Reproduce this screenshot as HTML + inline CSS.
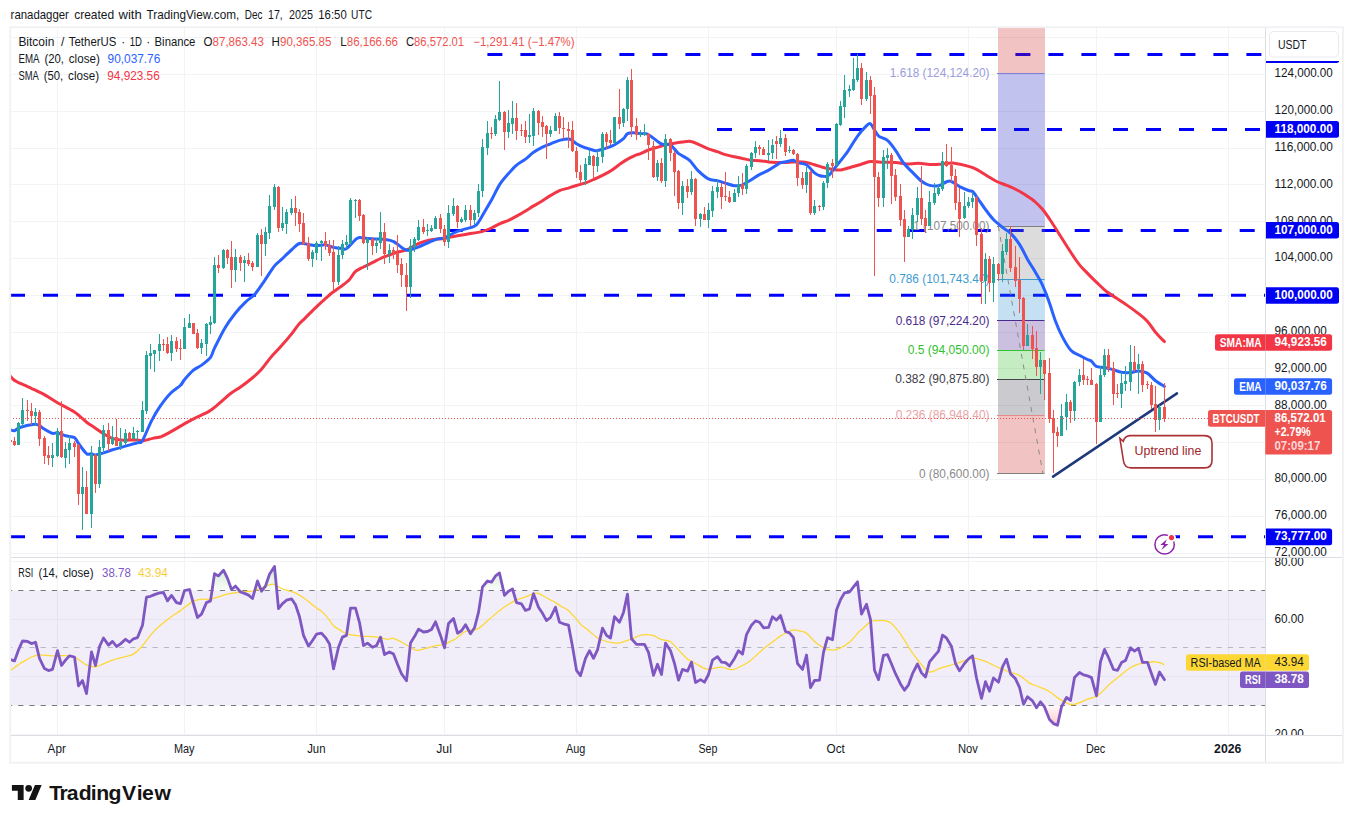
<!DOCTYPE html>
<html><head><meta charset="utf-8"><title>BTCUSDT chart</title>
<style>html,body{margin:0;padding:0;background:#fff;width:1353px;height:823px;overflow:hidden;font-family:"Liberation Sans",sans-serif}</style></head>
<body>
<svg width="1353" height="823" viewBox="0 0 1353 823" style="position:absolute;left:0;top:0" font-family="Liberation Sans, sans-serif">
<defs>
<clipPath id="cm"><rect x="10" y="27" width="1255" height="530"/></clipPath>
<clipPath id="cr"><rect x="10" y="558" width="1255" height="177"/></clipPath>
<clipPath id="cpa"><rect x="1266" y="27" width="77" height="530"/></clipPath>
<clipPath id="cra"><rect x="1266" y="558" width="77" height="177"/></clipPath>
<clipPath id="c70"><rect x="10" y="558" width="1255" height="32.5"/></clipPath>
<clipPath id="c30"><rect x="10" y="705.5" width="1255" height="30"/></clipPath>
<linearGradient id="gg" x1="0" y1="558" x2="0" y2="590.5" gradientUnits="userSpaceOnUse"><stop offset="0" stop-color="#4caf50" stop-opacity="0.35"/><stop offset="1" stop-color="#4caf50" stop-opacity="0.03"/></linearGradient>
<linearGradient id="gr" x1="0" y1="705.5" x2="0" y2="735" gradientUnits="userSpaceOnUse"><stop offset="0" stop-color="#ff5252" stop-opacity="0.03"/><stop offset="1" stop-color="#ff5252" stop-opacity="0.45"/></linearGradient>
</defs>
<rect width="1353" height="823" fill="#fff"/>
<rect x="57" y="27" width="1" height="708" fill="#f1f3f4"/>
<rect x="184" y="27" width="1" height="708" fill="#f1f3f4"/>
<rect x="316" y="27" width="1" height="708" fill="#f1f3f4"/>
<rect x="444" y="27" width="1" height="708" fill="#f1f3f4"/>
<rect x="576" y="27" width="1" height="708" fill="#f1f3f4"/>
<rect x="708" y="27" width="1" height="708" fill="#f1f3f4"/>
<rect x="836" y="27" width="1" height="708" fill="#f1f3f4"/>
<rect x="968" y="27" width="1" height="708" fill="#f1f3f4"/>
<rect x="1096" y="27" width="1" height="708" fill="#f1f3f4"/>
<rect x="1228" y="27" width="1" height="708" fill="#f1f3f4"/>
<rect x="10" y="553" width="1255" height="1" fill="#f1f3f4"/>
<rect x="10" y="516" width="1255" height="1" fill="#f1f3f4"/>
<rect x="10" y="479" width="1255" height="1" fill="#f1f3f4"/>
<rect x="10" y="442" width="1255" height="1" fill="#f1f3f4"/>
<rect x="10" y="405" width="1255" height="1" fill="#f1f3f4"/>
<rect x="10" y="368" width="1255" height="1" fill="#f1f3f4"/>
<rect x="10" y="332" width="1255" height="1" fill="#f1f3f4"/>
<rect x="10" y="295" width="1255" height="1" fill="#f1f3f4"/>
<rect x="10" y="258" width="1255" height="1" fill="#f1f3f4"/>
<rect x="10" y="221" width="1255" height="1" fill="#f1f3f4"/>
<rect x="10" y="184" width="1255" height="1" fill="#f1f3f4"/>
<rect x="10" y="148" width="1255" height="1" fill="#f1f3f4"/>
<rect x="10" y="111" width="1255" height="1" fill="#f1f3f4"/>
<rect x="10" y="74" width="1255" height="1" fill="#f1f3f4"/>
<rect x="10" y="37" width="1255" height="1" fill="#f1f3f4"/>
<rect x="10" y="561" width="1255" height="1" fill="#f1f3f4"/>
<rect x="10" y="619" width="1255" height="1" fill="#f1f3f4"/>
<rect x="10" y="676" width="1255" height="1" fill="#f1f3f4"/>
<rect x="10" y="734" width="1255" height="1" fill="#f1f3f4"/>
<rect x="10" y="590.5" width="1255" height="115" fill="rgba(126,87,194,0.1)"/>
<g clip-path="url(#cm)">
<line x1="487.4" y1="54.5" x2="1265" y2="54.5" stroke="#0000ff" stroke-width="3" stroke-dasharray="15 18"/>
<line x1="717" y1="129.6" x2="1265" y2="129.6" stroke="#0000ff" stroke-width="3" stroke-dasharray="15 18"/>
<line x1="447.7" y1="230.4" x2="1265" y2="230.4" stroke="#0000ff" stroke-width="3" stroke-dasharray="15 18"/>
<line x1="10" y1="295.3" x2="1265" y2="295.3" stroke="#0000ff" stroke-width="3" stroke-dasharray="15 18"/>
<line x1="10" y1="536.7" x2="1265" y2="536.7" stroke="#0000ff" stroke-width="3" stroke-dasharray="15 18"/>
<rect x="998" y="27.0" width="47" height="46.3" fill="rgba(199,15,15,0.25)"/>
<rect x="998" y="73.3" width="47" height="153.0" fill="rgba(11,11,187,0.25)"/>
<rect x="998" y="226.3" width="47" height="53.0" fill="rgba(115,115,115,0.25)"/>
<rect x="998" y="279.3" width="47" height="41.6" fill="rgba(23,131,203,0.25)"/>
<rect x="998" y="320.9" width="47" height="29.2" fill="rgba(51,3,135,0.25)"/>
<rect x="998" y="350.1" width="47" height="29.2" fill="rgba(23,179,11,0.25)"/>
<rect x="998" y="379.3" width="47" height="36.1" fill="rgba(47,43,63,0.25)"/>
<rect x="998" y="415.4" width="47" height="58.4" fill="rgba(199,15,15,0.25)"/>
<rect x="997" y="73.0" width="47.5" height="1" fill="#7e80d8"/>
<rect x="997" y="226.0" width="47.5" height="1" fill="#808080"/>
<rect x="997" y="279.0" width="47.5" height="1" fill="#3b9bd0"/>
<rect x="997" y="320.0" width="47.5" height="1" fill="#4b2a8d"/>
<rect x="997" y="350.0" width="47.5" height="1" fill="#30c230"/>
<rect x="997" y="379.0" width="47.5" height="1" fill="#45454f"/>
<rect x="997" y="415.0" width="47.5" height="1" fill="#e58a8e"/>
<rect x="997" y="473.0" width="47.5" height="1" fill="#808080"/>
<text x="889.8" y="77.3" font-size="12" fill="#9b9cdc" textLength="99.7" lengthAdjust="spacingAndGlyphs">1.618 (124,124.20)</text>
<text x="913.2" y="230.3" font-size="12" fill="#8a8a8a" textLength="76.3" lengthAdjust="spacingAndGlyphs">1 (107,500.00)</text>
<text x="889.3" y="283.3" font-size="12" fill="#3d9bd1" textLength="100.2" lengthAdjust="spacingAndGlyphs">0.786 (101,743.40)</text>
<text x="895.7" y="324.9" font-size="12" fill="#4b2a8d" textLength="93.8" lengthAdjust="spacingAndGlyphs">0.618 (97,224.20)</text>
<text x="907.7" y="354.1" font-size="12" fill="#2fc22f" textLength="81.8" lengthAdjust="spacingAndGlyphs">0.5 (94,050.00)</text>
<text x="895.2" y="383.3" font-size="12" fill="#3c3c46" textLength="94.3" lengthAdjust="spacingAndGlyphs">0.382 (90,875.80)</text>
<text x="895.7" y="419.4" font-size="12" fill="#e9a3a6" textLength="93.8" lengthAdjust="spacingAndGlyphs">0.236 (86,948.40)</text>
<text x="918.9" y="477.9" font-size="12" fill="#8a8a8a" textLength="70.6" lengthAdjust="spacingAndGlyphs">0 (80,600.00)</text>
<line x1="998.3" y1="226.3" x2="1043" y2="473.9" stroke="#8a8a8a" stroke-width="1" stroke-dasharray="5 5.8"/>
<path d="M10.0,375.6 C10.1,375.7 10.1,375.8 10.6,376.4 C11.1,377.0 12.2,378.6 13.3,379.5 C14.4,380.4 16.3,381.4 17.7,382.2 C19.1,383.0 20.8,383.6 22.2,384.2 C23.6,384.8 25.2,385.6 26.6,386.2 C28.0,386.8 29.6,387.6 31.0,388.2 C32.4,388.8 34.1,389.5 35.5,390.2 C36.9,390.9 38.5,391.7 39.9,392.4 C41.3,393.1 41.5,393.0 44.3,394.6 C47.1,396.2 52.5,399.9 57.4,402.7 C62.2,405.4 69.7,408.9 74.4,412.0 C79.1,415.1 83.2,419.6 86.6,422.2 C90.0,424.8 92.8,426.3 95.5,428.2 C98.2,430.0 100.9,432.2 103.6,433.8 C106.4,435.4 109.8,437.4 112.5,438.4 C115.2,439.4 117.9,439.8 120.7,440.1 C123.4,440.4 126.8,440.1 129.5,440.1 C132.2,440.1 135.3,440.0 137.7,440.1 C140.0,440.2 141.8,440.9 144.1,440.6 C146.5,440.3 149.9,439.0 152.7,438.4 C155.4,437.8 158.4,437.6 161.2,436.7 C163.9,435.7 164.9,435.1 169.7,432.4 C174.5,429.8 184.9,423.3 191.1,420.1 C197.2,416.8 203.7,414.4 208.1,411.9 C212.4,409.4 214.8,407.1 218.3,404.2 C221.8,401.4 226.5,396.7 230.0,394.0 C233.5,391.3 236.9,389.5 240.2,387.2 C243.5,384.9 247.1,382.2 250.4,379.5 C253.7,376.8 257.4,373.7 260.6,370.2 C263.9,366.6 267.6,361.2 270.8,357.4 C274.1,353.6 277.8,350.0 281.0,346.3 C284.3,342.7 288.5,337.8 291.2,334.4 C294.0,331.0 295.9,327.7 298.1,325.1 C300.2,322.5 302.1,321.0 304.9,318.3 C307.6,315.6 311.8,311.2 315.1,308.1 C318.3,304.9 322.5,301.2 325.3,298.7 C328.0,296.3 329.6,294.7 332.1,292.8 C334.5,290.9 337.9,288.8 340.6,286.8 C343.3,284.8 346.7,282.4 349.1,280.0 C351.4,277.6 353.0,273.8 355.3,271.7 C357.6,269.7 360.8,268.4 363.5,267.0 C366.2,265.5 369.6,264.1 372.3,262.7 C375.1,261.4 377.8,259.7 380.5,258.5 C383.2,257.2 386.6,256.1 389.4,255.1 C392.1,254.0 394.8,252.8 397.5,252.0 C400.2,251.2 403.6,251.0 406.4,250.0 C409.1,249.0 412.3,246.8 414.5,245.7 C416.7,244.6 417.5,243.8 420.0,242.8 C422.5,241.9 426.3,240.7 430.2,239.9 C434.2,239.2 440.3,238.9 444.7,238.2 C449.0,237.6 453.3,236.4 457.4,235.7 C461.5,235.0 466.3,234.3 470.4,233.6 C474.4,233.0 479.2,232.3 482.6,231.4 C486.0,230.5 488.7,229.3 491.5,228.0 C494.2,226.8 496.9,225.0 499.6,223.8 C502.3,222.6 505.7,221.6 508.5,220.4 C511.2,219.1 513.9,217.6 516.6,216.1 C519.4,214.6 522.8,212.7 525.5,211.0 C528.2,209.4 530.9,207.5 533.6,205.9 C536.4,204.3 539.8,202.5 542.5,200.8 C545.2,199.1 547.9,197.0 550.7,195.4 C553.4,193.7 556.7,191.8 559.5,190.6 C562.3,189.4 565.6,188.9 568.3,188.1 C571.1,187.2 573.8,186.3 576.5,185.5 C579.2,184.7 582.6,183.9 585.4,182.9 C588.1,182.0 590.8,180.8 593.5,179.5 C596.3,178.3 599.7,176.7 602.4,175.3 C605.1,173.9 607.8,172.8 610.5,171.0 C613.3,169.3 616.7,166.5 619.4,164.6 C622.1,162.7 624.8,160.7 627.6,159.1 C630.3,157.6 634.4,155.7 636.4,154.9 C638.4,154.0 638.1,154.7 640.0,153.9 C641.9,153.1 645.7,151.0 648.5,150.0 C651.3,148.9 654.6,148.2 657.4,147.4 C660.1,146.6 662.8,145.6 665.5,144.9 C668.2,144.2 671.6,143.6 674.4,143.2 C677.1,142.7 679.9,142.3 682.5,142.0 C685.2,141.7 688.3,141.0 691.0,141.5 C693.8,141.9 696.8,143.7 699.5,144.9 C702.3,146.0 705.6,147.7 708.4,148.8 C711.2,149.9 714.5,150.8 717.2,151.7 C720.0,152.6 722.7,153.8 725.4,154.6 C728.1,155.4 731.5,156.2 734.2,156.8 C737.0,157.4 739.7,157.9 742.4,158.5 C745.1,159.0 748.5,159.8 751.3,160.2 C754.0,160.5 756.7,160.4 759.4,160.7 C762.2,161.0 765.6,161.6 768.3,161.9 C771.0,162.2 773.7,162.3 776.4,162.4 C779.2,162.5 782.6,162.5 785.3,162.4 C788.0,162.3 790.7,162.0 793.5,161.9 C796.2,161.8 800.2,161.8 802.3,161.9 C804.4,162.0 804.4,161.9 806.4,162.4 C808.3,162.9 811.8,164.0 814.5,164.8 C817.3,165.6 820.6,166.8 823.4,167.5 C826.2,168.2 829.5,168.8 832.2,169.2 C835.0,169.6 837.7,170.2 840.7,169.9 C843.8,169.5 848.2,167.9 851.5,167.0 C854.8,166.1 858.4,165.1 861.4,164.2 C864.4,163.3 867.3,161.9 870.5,161.6 C873.6,161.3 877.0,162.1 881.0,162.2 C885.1,162.4 891.6,162.3 895.7,162.6 C899.8,162.9 902.9,163.8 906.6,164.0 C910.2,164.1 914.4,163.2 918.5,163.3 C922.5,163.4 928.3,164.4 932.1,164.5 C935.9,164.6 939.0,164.2 942.3,164.0 C945.5,163.7 949.0,162.7 952.5,162.9 C956.0,163.1 960.9,164.4 964.4,165.3 C967.9,166.2 971.1,166.7 974.6,168.4 C978.1,170.0 983.0,173.4 986.5,175.5 C990.1,177.6 993.5,179.9 996.7,181.5 C1000.0,183.1 1003.7,184.0 1006.9,185.4 C1010.2,186.7 1014.1,188.4 1017.1,190.0 C1020.1,191.5 1022.9,193.3 1025.6,195.1 C1028.4,196.9 1031.4,198.7 1034.2,201.0 C1036.9,203.4 1039.9,206.3 1042.7,209.5 C1045.4,212.8 1045.8,213.4 1051.2,221.5 C1056.5,229.5 1070.3,251.9 1075.9,260.0 C1081.5,268.1 1082.8,268.4 1086.1,271.9 C1089.4,275.4 1093.0,279.0 1096.3,282.1 C1099.6,285.2 1103.2,288.9 1106.5,291.5 C1109.8,294.1 1113.5,296.1 1116.7,298.3 C1120.0,300.5 1123.4,302.6 1126.9,305.1 C1130.4,307.5 1135.2,311.0 1138.5,313.6 C1141.8,316.2 1144.6,318.3 1147.3,321.2 C1150.1,324.2 1152.8,329.0 1155.5,332.3 C1158.2,335.6 1163.0,340.1 1164.4,341.6" fill="none" stroke="#f23645" stroke-width="3" stroke-linejoin="round" stroke-linecap="round"/>
<path d="M10.4,429.9 C11.0,430.0 13.2,431.0 14.5,430.7 C15.8,430.5 16.9,428.9 18.6,428.2 C20.2,427.4 23.0,426.5 25.0,426.0 C27.1,425.4 29.7,425.1 31.3,424.8 C33.0,424.5 34.1,424.1 35.4,424.3 C36.7,424.4 38.1,424.9 39.5,425.6 C40.9,426.4 42.2,427.8 44.2,429.0 C46.3,430.3 50.3,432.7 52.4,433.3 C54.5,433.9 55.3,432.4 57.4,432.8 C59.4,433.2 62.8,435.1 65.5,435.8 C68.2,436.6 72.3,436.3 74.4,437.5 C76.4,438.8 76.5,440.9 78.5,443.5 C80.4,446.1 84.6,452.1 86.6,453.7 C88.7,455.3 90.0,453.5 91.4,453.7 C92.8,453.9 93.5,455.0 95.5,454.9 C97.4,454.8 100.9,453.7 103.6,452.9 C106.4,452.0 109.0,450.9 112.5,449.8 C116.0,448.7 121.4,447.2 125.4,446.1 C129.5,444.9 135.0,443.5 137.7,442.7 C140.4,441.8 140.2,444.2 142.4,440.6 C144.7,437.0 149.0,425.6 151.9,420.1 C154.8,414.5 157.4,410.2 160.4,405.9 C163.4,401.6 167.4,396.4 170.6,393.2 C173.8,389.9 178.1,387.7 180.3,385.5 C182.6,383.3 182.5,382.0 184.6,379.6 C186.7,377.1 190.7,372.5 193.4,370.2 C196.2,367.9 198.9,367.1 201.6,365.1 C204.3,363.0 208.4,360.2 210.5,357.4 C212.5,354.7 212.2,352.8 214.5,348.1 C216.9,343.3 221.8,333.2 225.1,327.7 C228.4,322.1 232.0,317.3 235.3,313.2 C238.6,309.1 242.3,305.2 245.5,302.1 C248.7,299.0 252.0,297.4 255.1,293.9 C258.1,290.5 261.6,285.0 264.6,280.6 C267.7,276.1 271.5,269.7 274.3,266.1 C277.2,262.6 279.8,261.1 282.5,258.5 C285.2,255.9 288.6,252.4 291.4,250.0 C294.1,247.6 296.8,244.4 299.5,243.5 C302.2,242.6 305.6,244.2 308.4,244.5 C311.1,244.9 313.8,245.7 316.5,245.7 C319.3,245.8 322.7,244.6 325.4,244.9 C328.1,245.1 330.8,246.8 333.5,247.4 C336.3,248.0 340.3,248.4 342.4,248.6 C344.5,248.8 344.4,250.0 346.5,248.6 C348.5,247.2 353.3,241.5 355.3,239.8 C357.4,238.0 357.4,237.8 359.4,237.5 C361.4,237.3 364.9,238.2 367.6,238.4 C370.3,238.6 373.7,238.7 376.4,238.9 C379.1,239.1 381.9,239.0 384.6,239.4 C387.3,239.8 390.7,240.2 393.4,241.5 C396.2,242.7 399.5,246.0 401.6,247.4 C403.7,248.8 404.9,249.6 406.4,250.0 C407.8,250.4 408.4,250.5 410.4,250.0 C412.5,249.4 416.4,247.8 419.3,246.7 C422.2,245.5 425.7,243.7 428.5,242.5 C431.3,241.3 434.4,239.8 437.0,239.1 C439.6,238.4 442.8,238.8 444.7,238.2 C446.5,237.7 446.5,236.8 448.6,235.7 C450.6,234.6 454.7,232.5 457.4,231.4 C460.1,230.3 462.9,229.7 465.6,228.9 C468.3,228.1 472.4,227.4 474.4,226.3 C476.5,225.2 477.2,223.8 478.5,222.1 C479.8,220.3 480.5,218.8 482.6,215.3 C484.7,211.7 488.7,204.9 491.5,200.0 C494.2,195.1 496.9,188.9 499.6,184.6 C502.3,180.4 505.7,176.7 508.5,173.6 C511.2,170.5 513.9,167.4 516.6,165.1 C519.4,162.8 522.8,161.2 525.5,159.1 C528.2,157.1 530.9,154.2 533.6,152.3 C536.4,150.4 539.8,148.6 542.5,147.2 C545.2,145.9 547.9,144.9 550.7,143.8 C553.4,142.7 556.7,141.2 559.5,140.4 C562.3,139.7 566.3,139.1 568.3,139.1 C570.4,139.1 571.1,139.7 572.4,140.4 C573.7,141.2 574.7,142.7 576.5,143.8 C578.3,144.9 580.8,146.2 583.5,147.2 C586.2,148.3 591.3,149.7 593.5,150.3 C595.8,150.8 595.5,151.0 597.6,150.6 C599.7,150.3 603.7,149.0 606.5,148.1 C609.2,147.1 611.9,146.2 614.6,144.7 C617.3,143.2 621.4,140.5 623.5,138.7 C625.5,136.9 625.8,134.6 627.6,133.6 C629.3,132.7 632.3,132.7 634.4,132.8 C636.4,132.8 638.3,133.5 640.2,133.7 C642.2,133.9 644.7,133.1 646.8,133.8 C648.9,134.5 650.9,136.4 653.3,138.1 C655.6,139.7 658.7,142.9 661.4,144.0 C664.2,145.1 667.6,143.4 670.3,144.9 C673.0,146.4 675.4,150.9 678.4,153.4 C681.5,155.8 686.2,157.5 689.3,160.2 C692.4,162.9 694.8,167.4 697.8,170.4 C700.9,173.4 705.3,177.3 708.4,178.9 C711.5,180.5 714.5,179.9 717.2,180.6 C720.0,181.3 722.7,182.3 725.4,183.2 C728.1,184.0 731.5,185.4 734.2,185.7 C737.0,186.0 739.7,185.8 742.4,184.9 C745.1,183.9 748.5,181.4 751.3,179.8 C754.0,178.1 756.7,176.1 759.4,174.6 C762.2,173.2 765.6,171.9 768.3,170.4 C771.0,168.9 774.5,166.5 776.4,165.3 C778.4,164.1 778.5,163.4 780.5,162.7 C782.6,162.1 787.3,161.4 789.4,161.0 C791.4,160.6 792.1,159.9 793.5,160.2 C794.8,160.5 795.5,162.0 797.5,162.7 C799.6,163.5 803.7,163.1 806.4,164.8 C809.1,166.4 812.5,171.2 814.5,172.9 C816.6,174.7 817.9,175.0 819.3,175.5 C820.7,176.0 821.9,176.4 823.4,176.3 C824.9,176.3 826.6,177.0 828.7,175.4 C830.8,173.7 833.9,169.0 836.5,165.9 C839.0,162.7 842.6,158.4 844.6,155.7 C846.7,153.0 847.3,152.0 849.4,148.9 C851.5,145.8 854.8,139.8 857.6,136.1 C860.3,132.4 864.3,127.9 866.4,125.9 C868.5,123.9 869.2,123.0 870.5,123.7 C871.8,124.4 873.3,128.2 874.6,130.2 C875.9,132.2 876.6,134.5 878.7,136.1 C880.7,137.8 884.8,138.1 887.5,140.4 C890.2,142.7 893.2,147.0 895.7,150.6 C898.2,154.1 900.5,159.0 903.2,162.5 C905.8,166.0 909.5,169.4 912.5,172.4 C915.5,175.4 919.1,179.4 921.9,181.5 C924.6,183.5 927.0,184.7 929.7,185.4 C932.4,186.1 935.7,186.4 938.5,185.7 C941.4,185.1 945.3,182.2 947.4,181.5 C949.5,180.8 949.5,180.7 951.5,181.5 C953.4,182.3 956.9,185.1 959.6,186.6 C962.4,188.0 966.4,189.7 968.5,190.5 C970.6,191.3 971.6,190.7 972.9,191.7 C974.2,192.7 974.6,193.9 976.6,196.8 C978.7,199.6 982.8,205.9 985.5,209.5 C988.2,213.2 990.9,216.9 993.7,219.8 C996.4,222.6 999.8,225.2 1002.5,227.4 C1005.2,229.6 1008.0,230.6 1010.7,233.4 C1013.4,236.1 1016.9,240.3 1019.5,244.4 C1022.2,248.5 1025.1,254.8 1027.3,258.9 C1029.6,262.9 1031.4,265.7 1033.8,269.6 C1036.1,273.6 1039.5,278.8 1041.9,283.8 C1044.3,288.8 1046.5,294.8 1048.7,300.8 C1050.9,306.8 1053.3,315.5 1055.5,321.2 C1057.7,327.0 1059.8,331.9 1062.3,336.6 C1064.7,341.2 1068.1,347.2 1070.8,350.2 C1073.5,353.2 1076.6,353.8 1079.3,355.3 C1082.0,356.8 1085.5,358.6 1087.5,359.5 C1089.4,360.5 1090.1,360.1 1091.5,361.2 C1093.0,362.3 1094.2,365.3 1096.3,366.3 C1098.4,367.3 1101.8,367.0 1104.5,367.5 C1107.2,368.1 1110.6,369.0 1113.3,369.7 C1116.0,370.5 1118.8,371.8 1121.5,372.3 C1124.2,372.7 1127.6,372.8 1130.3,372.6 C1133.1,372.4 1135.8,370.8 1138.5,370.9 C1141.2,371.0 1144.6,371.6 1147.3,373.1 C1150.1,374.7 1152.8,378.7 1155.5,380.8 C1158.2,382.9 1163.0,385.5 1164.4,386.4" fill="none" stroke="#2962ff" stroke-width="3" stroke-linejoin="round" stroke-linecap="round"/>
<line x1="1053" y1="476.6" x2="1177" y2="393.4" stroke="#1e3a7a" stroke-width="2.5" stroke-linecap="round"/>
<rect x="10" y="434" width="1" height="16" fill="#ef5350"/>
<rect x="9" y="440" width="3" height="2" fill="#ef5350"/>
<rect x="14" y="437" width="1" height="9" fill="#ef5350"/>
<rect x="13" y="441" width="3" height="4" fill="#ef5350"/>
<rect x="18" y="422" width="1" height="23" fill="#26a69a"/>
<rect x="17" y="423" width="3" height="22" fill="#26a69a"/>
<rect x="22" y="398" width="1" height="29" fill="#26a69a"/>
<rect x="21" y="410" width="3" height="14" fill="#26a69a"/>
<rect x="27" y="400" width="1" height="21" fill="#ef5350"/>
<rect x="26" y="410" width="3" height="1" fill="#ef5350"/>
<rect x="31" y="403" width="1" height="22" fill="#ef5350"/>
<rect x="30" y="411" width="3" height="5" fill="#ef5350"/>
<rect x="35" y="408" width="1" height="18" fill="#26a69a"/>
<rect x="34" y="412" width="3" height="4" fill="#26a69a"/>
<rect x="39" y="410" width="1" height="36" fill="#ef5350"/>
<rect x="38" y="412" width="3" height="27" fill="#ef5350"/>
<rect x="44" y="436" width="1" height="28" fill="#ef5350"/>
<rect x="43" y="438" width="3" height="18" fill="#ef5350"/>
<rect x="48" y="446" width="1" height="19" fill="#ef5350"/>
<rect x="47" y="455" width="3" height="3" fill="#ef5350"/>
<rect x="52" y="443" width="1" height="24" fill="#26a69a"/>
<rect x="51" y="455" width="3" height="3" fill="#26a69a"/>
<rect x="57" y="428" width="1" height="29" fill="#26a69a"/>
<rect x="56" y="431" width="3" height="25" fill="#26a69a"/>
<rect x="61" y="401" width="1" height="57" fill="#ef5350"/>
<rect x="60" y="431" width="3" height="26" fill="#ef5350"/>
<rect x="65" y="442" width="1" height="26" fill="#26a69a"/>
<rect x="64" y="449" width="3" height="9" fill="#26a69a"/>
<rect x="69" y="436" width="1" height="28" fill="#26a69a"/>
<rect x="68" y="443" width="3" height="7" fill="#26a69a"/>
<rect x="74" y="441" width="1" height="16" fill="#ef5350"/>
<rect x="73" y="443" width="3" height="4" fill="#ef5350"/>
<rect x="78" y="444" width="1" height="61" fill="#ef5350"/>
<rect x="77" y="445" width="3" height="49" fill="#ef5350"/>
<rect x="82" y="467" width="1" height="63" fill="#26a69a"/>
<rect x="81" y="487" width="3" height="7" fill="#26a69a"/>
<rect x="86" y="471" width="1" height="43" fill="#ef5350"/>
<rect x="85" y="487" width="3" height="27" fill="#ef5350"/>
<rect x="91" y="446" width="1" height="82" fill="#26a69a"/>
<rect x="90" y="454" width="3" height="60" fill="#26a69a"/>
<rect x="95" y="454" width="1" height="39" fill="#ef5350"/>
<rect x="94" y="455" width="3" height="29" fill="#ef5350"/>
<rect x="99" y="440" width="1" height="48" fill="#26a69a"/>
<rect x="98" y="447" width="3" height="37" fill="#26a69a"/>
<rect x="103" y="425" width="1" height="28" fill="#26a69a"/>
<rect x="102" y="430" width="3" height="18" fill="#26a69a"/>
<rect x="108" y="423" width="1" height="28" fill="#ef5350"/>
<rect x="107" y="430" width="3" height="14" fill="#ef5350"/>
<rect x="112" y="426" width="1" height="19" fill="#26a69a"/>
<rect x="111" y="437" width="3" height="7" fill="#26a69a"/>
<rect x="116" y="419" width="1" height="27" fill="#ef5350"/>
<rect x="115" y="437" width="3" height="9" fill="#ef5350"/>
<rect x="120" y="428" width="1" height="22" fill="#26a69a"/>
<rect x="119" y="442" width="3" height="4" fill="#26a69a"/>
<rect x="125" y="429" width="1" height="16" fill="#26a69a"/>
<rect x="124" y="433" width="3" height="10" fill="#26a69a"/>
<rect x="129" y="432" width="1" height="8" fill="#ef5350"/>
<rect x="128" y="433" width="3" height="6" fill="#ef5350"/>
<rect x="133" y="427" width="1" height="12" fill="#26a69a"/>
<rect x="132" y="433" width="3" height="6" fill="#26a69a"/>
<rect x="137" y="430" width="1" height="13" fill="#26a69a"/>
<rect x="136" y="431" width="3" height="1" fill="#26a69a"/>
<rect x="142" y="401" width="1" height="31" fill="#26a69a"/>
<rect x="141" y="410" width="3" height="22" fill="#26a69a"/>
<rect x="146" y="351" width="1" height="63" fill="#26a69a"/>
<rect x="145" y="355" width="3" height="56" fill="#26a69a"/>
<rect x="150" y="344" width="1" height="25" fill="#26a69a"/>
<rect x="149" y="353" width="3" height="3" fill="#26a69a"/>
<rect x="154" y="350" width="1" height="22" fill="#26a69a"/>
<rect x="153" y="350" width="3" height="4" fill="#26a69a"/>
<rect x="159" y="334" width="1" height="27" fill="#26a69a"/>
<rect x="158" y="344" width="3" height="7" fill="#26a69a"/>
<rect x="163" y="339" width="1" height="12" fill="#ef5350"/>
<rect x="162" y="344" width="3" height="1" fill="#ef5350"/>
<rect x="167" y="337" width="1" height="17" fill="#ef5350"/>
<rect x="166" y="344" width="3" height="9" fill="#ef5350"/>
<rect x="171" y="335" width="1" height="26" fill="#26a69a"/>
<rect x="170" y="341" width="3" height="12" fill="#26a69a"/>
<rect x="176" y="337" width="1" height="15" fill="#ef5350"/>
<rect x="175" y="341" width="3" height="8" fill="#ef5350"/>
<rect x="180" y="339" width="1" height="21" fill="#ef5350"/>
<rect x="179" y="348" width="3" height="1" fill="#ef5350"/>
<rect x="184" y="318" width="1" height="31" fill="#26a69a"/>
<rect x="183" y="327" width="3" height="22" fill="#26a69a"/>
<rect x="189" y="314" width="1" height="14" fill="#26a69a"/>
<rect x="188" y="323" width="3" height="5" fill="#26a69a"/>
<rect x="193" y="323" width="1" height="11" fill="#ef5350"/>
<rect x="192" y="323" width="3" height="11" fill="#ef5350"/>
<rect x="197" y="329" width="1" height="20" fill="#ef5350"/>
<rect x="196" y="333" width="3" height="15" fill="#ef5350"/>
<rect x="201" y="339" width="1" height="15" fill="#26a69a"/>
<rect x="200" y="343" width="3" height="5" fill="#26a69a"/>
<rect x="206" y="323" width="1" height="33" fill="#26a69a"/>
<rect x="205" y="324" width="3" height="20" fill="#26a69a"/>
<rect x="210" y="316" width="1" height="18" fill="#26a69a"/>
<rect x="209" y="322" width="3" height="3" fill="#26a69a"/>
<rect x="214" y="257" width="1" height="67" fill="#26a69a"/>
<rect x="213" y="265" width="3" height="58" fill="#26a69a"/>
<rect x="218" y="255" width="1" height="18" fill="#ef5350"/>
<rect x="217" y="265" width="3" height="3" fill="#ef5350"/>
<rect x="223" y="249" width="1" height="20" fill="#26a69a"/>
<rect x="222" y="250" width="3" height="18" fill="#26a69a"/>
<rect x="227" y="249" width="1" height="15" fill="#ef5350"/>
<rect x="226" y="250" width="3" height="8" fill="#ef5350"/>
<rect x="231" y="241" width="1" height="47" fill="#ef5350"/>
<rect x="230" y="257" width="3" height="13" fill="#ef5350"/>
<rect x="235" y="249" width="1" height="33" fill="#26a69a"/>
<rect x="234" y="257" width="3" height="13" fill="#26a69a"/>
<rect x="240" y="255" width="1" height="16" fill="#ef5350"/>
<rect x="239" y="257" width="3" height="6" fill="#ef5350"/>
<rect x="244" y="256" width="1" height="26" fill="#26a69a"/>
<rect x="243" y="260" width="3" height="3" fill="#26a69a"/>
<rect x="248" y="253" width="1" height="13" fill="#ef5350"/>
<rect x="247" y="260" width="3" height="4" fill="#ef5350"/>
<rect x="252" y="261" width="1" height="10" fill="#ef5350"/>
<rect x="251" y="263" width="3" height="4" fill="#ef5350"/>
<rect x="257" y="233" width="1" height="34" fill="#26a69a"/>
<rect x="256" y="235" width="3" height="32" fill="#26a69a"/>
<rect x="261" y="229" width="1" height="47" fill="#ef5350"/>
<rect x="260" y="235" width="3" height="9" fill="#ef5350"/>
<rect x="265" y="227" width="1" height="29" fill="#26a69a"/>
<rect x="264" y="232" width="3" height="12" fill="#26a69a"/>
<rect x="269" y="195" width="1" height="44" fill="#26a69a"/>
<rect x="268" y="206" width="3" height="27" fill="#26a69a"/>
<rect x="274" y="184" width="1" height="26" fill="#26a69a"/>
<rect x="273" y="187" width="3" height="20" fill="#26a69a"/>
<rect x="278" y="186" width="1" height="46" fill="#ef5350"/>
<rect x="277" y="187" width="3" height="41" fill="#ef5350"/>
<rect x="282" y="207" width="1" height="24" fill="#26a69a"/>
<rect x="281" y="223" width="3" height="5" fill="#26a69a"/>
<rect x="286" y="209" width="1" height="25" fill="#26a69a"/>
<rect x="285" y="212" width="3" height="12" fill="#26a69a"/>
<rect x="291" y="199" width="1" height="16" fill="#26a69a"/>
<rect x="290" y="208" width="3" height="5" fill="#26a69a"/>
<rect x="295" y="196" width="1" height="30" fill="#ef5350"/>
<rect x="294" y="208" width="3" height="5" fill="#ef5350"/>
<rect x="299" y="209" width="1" height="23" fill="#ef5350"/>
<rect x="298" y="212" width="3" height="12" fill="#ef5350"/>
<rect x="303" y="213" width="1" height="32" fill="#ef5350"/>
<rect x="302" y="223" width="3" height="21" fill="#ef5350"/>
<rect x="308" y="237" width="1" height="24" fill="#ef5350"/>
<rect x="307" y="243" width="3" height="16" fill="#ef5350"/>
<rect x="312" y="250" width="1" height="17" fill="#26a69a"/>
<rect x="311" y="252" width="3" height="7" fill="#26a69a"/>
<rect x="316" y="241" width="1" height="19" fill="#26a69a"/>
<rect x="315" y="243" width="3" height="10" fill="#26a69a"/>
<rect x="321" y="240" width="1" height="21" fill="#26a69a"/>
<rect x="320" y="241" width="3" height="2" fill="#26a69a"/>
<rect x="325" y="232" width="1" height="18" fill="#ef5350"/>
<rect x="324" y="241" width="3" height="5" fill="#ef5350"/>
<rect x="329" y="240" width="1" height="16" fill="#ef5350"/>
<rect x="328" y="245" width="3" height="8" fill="#ef5350"/>
<rect x="333" y="240" width="1" height="50" fill="#ef5350"/>
<rect x="332" y="252" width="3" height="30" fill="#ef5350"/>
<rect x="338" y="246" width="1" height="39" fill="#26a69a"/>
<rect x="337" y="255" width="3" height="27" fill="#26a69a"/>
<rect x="342" y="240" width="1" height="19" fill="#26a69a"/>
<rect x="341" y="244" width="3" height="11" fill="#26a69a"/>
<rect x="346" y="235" width="1" height="14" fill="#26a69a"/>
<rect x="345" y="242" width="3" height="3" fill="#26a69a"/>
<rect x="350" y="198" width="1" height="47" fill="#26a69a"/>
<rect x="349" y="200" width="3" height="43" fill="#26a69a"/>
<rect x="355" y="199" width="1" height="19" fill="#26a69a"/>
<rect x="354" y="200" width="3" height="1" fill="#26a69a"/>
<rect x="359" y="199" width="1" height="22" fill="#ef5350"/>
<rect x="358" y="200" width="3" height="16" fill="#ef5350"/>
<rect x="363" y="214" width="1" height="30" fill="#ef5350"/>
<rect x="362" y="215" width="3" height="28" fill="#ef5350"/>
<rect x="367" y="237" width="1" height="33" fill="#26a69a"/>
<rect x="366" y="239" width="3" height="4" fill="#26a69a"/>
<rect x="372" y="237" width="1" height="18" fill="#ef5350"/>
<rect x="371" y="239" width="3" height="7" fill="#ef5350"/>
<rect x="376" y="238" width="1" height="15" fill="#26a69a"/>
<rect x="375" y="243" width="3" height="3" fill="#26a69a"/>
<rect x="380" y="212" width="1" height="37" fill="#26a69a"/>
<rect x="379" y="232" width="3" height="11" fill="#26a69a"/>
<rect x="384" y="223" width="1" height="41" fill="#ef5350"/>
<rect x="383" y="232" width="3" height="22" fill="#ef5350"/>
<rect x="389" y="244" width="1" height="19" fill="#26a69a"/>
<rect x="388" y="250" width="3" height="4" fill="#26a69a"/>
<rect x="393" y="247" width="1" height="12" fill="#ef5350"/>
<rect x="392" y="250" width="3" height="3" fill="#ef5350"/>
<rect x="397" y="235" width="1" height="38" fill="#ef5350"/>
<rect x="396" y="253" width="3" height="12" fill="#ef5350"/>
<rect x="401" y="258" width="1" height="29" fill="#ef5350"/>
<rect x="400" y="264" width="3" height="11" fill="#ef5350"/>
<rect x="406" y="263" width="1" height="48" fill="#ef5350"/>
<rect x="405" y="275" width="3" height="12" fill="#ef5350"/>
<rect x="410" y="239" width="1" height="59" fill="#26a69a"/>
<rect x="409" y="246" width="3" height="41" fill="#26a69a"/>
<rect x="414" y="237" width="1" height="15" fill="#26a69a"/>
<rect x="413" y="239" width="3" height="8" fill="#26a69a"/>
<rect x="418" y="220" width="1" height="21" fill="#26a69a"/>
<rect x="417" y="227" width="3" height="13" fill="#26a69a"/>
<rect x="423" y="219" width="1" height="15" fill="#ef5350"/>
<rect x="422" y="227" width="3" height="5" fill="#ef5350"/>
<rect x="427" y="224" width="1" height="12" fill="#26a69a"/>
<rect x="426" y="230" width="3" height="1" fill="#26a69a"/>
<rect x="431" y="225" width="1" height="7" fill="#26a69a"/>
<rect x="430" y="228" width="3" height="3" fill="#26a69a"/>
<rect x="435" y="216" width="1" height="13" fill="#26a69a"/>
<rect x="434" y="218" width="3" height="11" fill="#26a69a"/>
<rect x="440" y="214" width="1" height="19" fill="#ef5350"/>
<rect x="439" y="218" width="3" height="11" fill="#ef5350"/>
<rect x="444" y="225" width="1" height="21" fill="#ef5350"/>
<rect x="443" y="229" width="3" height="13" fill="#ef5350"/>
<rect x="448" y="205" width="1" height="43" fill="#26a69a"/>
<rect x="447" y="213" width="3" height="29" fill="#26a69a"/>
<rect x="453" y="198" width="1" height="18" fill="#26a69a"/>
<rect x="452" y="206" width="3" height="8" fill="#26a69a"/>
<rect x="457" y="205" width="1" height="23" fill="#ef5350"/>
<rect x="456" y="206" width="3" height="16" fill="#ef5350"/>
<rect x="461" y="217" width="1" height="6" fill="#26a69a"/>
<rect x="460" y="219" width="3" height="3" fill="#26a69a"/>
<rect x="465" y="205" width="1" height="17" fill="#26a69a"/>
<rect x="464" y="210" width="3" height="10" fill="#26a69a"/>
<rect x="470" y="205" width="1" height="21" fill="#ef5350"/>
<rect x="469" y="210" width="3" height="10" fill="#ef5350"/>
<rect x="474" y="210" width="1" height="15" fill="#26a69a"/>
<rect x="473" y="213" width="3" height="7" fill="#26a69a"/>
<rect x="478" y="184" width="1" height="33" fill="#26a69a"/>
<rect x="477" y="191" width="3" height="22" fill="#26a69a"/>
<rect x="482" y="139" width="1" height="58" fill="#26a69a"/>
<rect x="481" y="147" width="3" height="44" fill="#26a69a"/>
<rect x="487" y="121" width="1" height="34" fill="#26a69a"/>
<rect x="486" y="133" width="3" height="15" fill="#26a69a"/>
<rect x="491" y="127" width="1" height="12" fill="#ef5350"/>
<rect x="490" y="133" width="3" height="1" fill="#ef5350"/>
<rect x="495" y="115" width="1" height="21" fill="#26a69a"/>
<rect x="494" y="119" width="3" height="15" fill="#26a69a"/>
<rect x="499" y="81" width="1" height="40" fill="#26a69a"/>
<rect x="498" y="112" width="3" height="8" fill="#26a69a"/>
<rect x="504" y="111" width="1" height="39" fill="#ef5350"/>
<rect x="503" y="112" width="3" height="20" fill="#ef5350"/>
<rect x="508" y="110" width="1" height="28" fill="#26a69a"/>
<rect x="507" y="123" width="3" height="9" fill="#26a69a"/>
<rect x="512" y="101" width="1" height="33" fill="#26a69a"/>
<rect x="511" y="118" width="3" height="6" fill="#26a69a"/>
<rect x="516" y="103" width="1" height="37" fill="#ef5350"/>
<rect x="515" y="118" width="3" height="13" fill="#ef5350"/>
<rect x="521" y="124" width="1" height="12" fill="#ef5350"/>
<rect x="520" y="130" width="3" height="1" fill="#ef5350"/>
<rect x="525" y="121" width="1" height="22" fill="#ef5350"/>
<rect x="524" y="130" width="3" height="7" fill="#ef5350"/>
<rect x="529" y="114" width="1" height="29" fill="#26a69a"/>
<rect x="528" y="135" width="3" height="2" fill="#26a69a"/>
<rect x="533" y="108" width="1" height="38" fill="#26a69a"/>
<rect x="532" y="111" width="3" height="25" fill="#26a69a"/>
<rect x="538" y="110" width="1" height="25" fill="#ef5350"/>
<rect x="537" y="111" width="3" height="12" fill="#ef5350"/>
<rect x="542" y="116" width="1" height="21" fill="#ef5350"/>
<rect x="541" y="122" width="3" height="5" fill="#ef5350"/>
<rect x="546" y="125" width="1" height="34" fill="#ef5350"/>
<rect x="545" y="126" width="3" height="8" fill="#ef5350"/>
<rect x="550" y="126" width="1" height="11" fill="#26a69a"/>
<rect x="549" y="130" width="3" height="4" fill="#26a69a"/>
<rect x="555" y="113" width="1" height="18" fill="#26a69a"/>
<rect x="554" y="116" width="3" height="15" fill="#26a69a"/>
<rect x="559" y="112" width="1" height="22" fill="#ef5350"/>
<rect x="558" y="116" width="3" height="12" fill="#ef5350"/>
<rect x="563" y="117" width="1" height="22" fill="#ef5350"/>
<rect x="562" y="128" width="3" height="1" fill="#ef5350"/>
<rect x="568" y="122" width="1" height="26" fill="#ef5350"/>
<rect x="567" y="129" width="3" height="2" fill="#ef5350"/>
<rect x="572" y="121" width="1" height="31" fill="#ef5350"/>
<rect x="571" y="130" width="3" height="21" fill="#ef5350"/>
<rect x="576" y="147" width="1" height="31" fill="#ef5350"/>
<rect x="575" y="151" width="3" height="21" fill="#ef5350"/>
<rect x="580" y="165" width="1" height="19" fill="#ef5350"/>
<rect x="579" y="172" width="3" height="8" fill="#ef5350"/>
<rect x="585" y="158" width="1" height="27" fill="#26a69a"/>
<rect x="584" y="164" width="3" height="16" fill="#26a69a"/>
<rect x="589" y="150" width="1" height="15" fill="#26a69a"/>
<rect x="588" y="156" width="3" height="9" fill="#26a69a"/>
<rect x="593" y="155" width="1" height="24" fill="#ef5350"/>
<rect x="592" y="156" width="3" height="10" fill="#ef5350"/>
<rect x="597" y="150" width="1" height="22" fill="#26a69a"/>
<rect x="596" y="157" width="3" height="9" fill="#26a69a"/>
<rect x="602" y="132" width="1" height="31" fill="#26a69a"/>
<rect x="601" y="134" width="3" height="23" fill="#26a69a"/>
<rect x="606" y="132" width="1" height="17" fill="#ef5350"/>
<rect x="605" y="134" width="3" height="8" fill="#ef5350"/>
<rect x="610" y="130" width="1" height="15" fill="#ef5350"/>
<rect x="609" y="140" width="3" height="3" fill="#ef5350"/>
<rect x="614" y="117" width="1" height="27" fill="#26a69a"/>
<rect x="613" y="117" width="3" height="26" fill="#26a69a"/>
<rect x="619" y="89" width="1" height="40" fill="#ef5350"/>
<rect x="618" y="117" width="3" height="7" fill="#ef5350"/>
<rect x="623" y="108" width="1" height="19" fill="#26a69a"/>
<rect x="622" y="109" width="3" height="14" fill="#26a69a"/>
<rect x="627" y="77" width="1" height="44" fill="#26a69a"/>
<rect x="626" y="80" width="3" height="29" fill="#26a69a"/>
<rect x="631" y="69" width="1" height="68" fill="#ef5350"/>
<rect x="630" y="80" width="3" height="47" fill="#ef5350"/>
<rect x="636" y="118" width="1" height="22" fill="#ef5350"/>
<rect x="635" y="126" width="3" height="9" fill="#ef5350"/>
<rect x="640" y="130" width="1" height="7" fill="#26a69a"/>
<rect x="639" y="134" width="3" height="1" fill="#26a69a"/>
<rect x="644" y="124" width="1" height="12" fill="#26a69a"/>
<rect x="643" y="133" width="3" height="2" fill="#26a69a"/>
<rect x="648" y="133" width="1" height="27" fill="#ef5350"/>
<rect x="647" y="134" width="3" height="11" fill="#ef5350"/>
<rect x="653" y="141" width="1" height="37" fill="#ef5350"/>
<rect x="652" y="146" width="3" height="31" fill="#ef5350"/>
<rect x="657" y="160" width="1" height="21" fill="#26a69a"/>
<rect x="656" y="163" width="3" height="14" fill="#26a69a"/>
<rect x="661" y="158" width="1" height="25" fill="#ef5350"/>
<rect x="660" y="163" width="3" height="18" fill="#ef5350"/>
<rect x="665" y="134" width="1" height="53" fill="#26a69a"/>
<rect x="664" y="139" width="3" height="42" fill="#26a69a"/>
<rect x="670" y="138" width="1" height="23" fill="#ef5350"/>
<rect x="669" y="139" width="3" height="14" fill="#ef5350"/>
<rect x="674" y="151" width="1" height="45" fill="#ef5350"/>
<rect x="673" y="153" width="3" height="19" fill="#ef5350"/>
<rect x="678" y="170" width="1" height="39" fill="#ef5350"/>
<rect x="677" y="171" width="3" height="32" fill="#ef5350"/>
<rect x="682" y="181" width="1" height="34" fill="#26a69a"/>
<rect x="681" y="186" width="3" height="17" fill="#26a69a"/>
<rect x="687" y="179" width="1" height="19" fill="#ef5350"/>
<rect x="686" y="186" width="3" height="6" fill="#ef5350"/>
<rect x="691" y="171" width="1" height="24" fill="#26a69a"/>
<rect x="690" y="179" width="3" height="13" fill="#26a69a"/>
<rect x="695" y="178" width="1" height="48" fill="#ef5350"/>
<rect x="694" y="179" width="3" height="40" fill="#ef5350"/>
<rect x="700" y="213" width="1" height="14" fill="#26a69a"/>
<rect x="699" y="214" width="3" height="5" fill="#26a69a"/>
<rect x="704" y="207" width="1" height="13" fill="#ef5350"/>
<rect x="703" y="214" width="3" height="6" fill="#ef5350"/>
<rect x="708" y="203" width="1" height="25" fill="#26a69a"/>
<rect x="707" y="210" width="3" height="10" fill="#26a69a"/>
<rect x="712" y="186" width="1" height="31" fill="#26a69a"/>
<rect x="711" y="191" width="3" height="20" fill="#26a69a"/>
<rect x="717" y="179" width="1" height="19" fill="#26a69a"/>
<rect x="716" y="187" width="3" height="5" fill="#26a69a"/>
<rect x="721" y="183" width="1" height="26" fill="#ef5350"/>
<rect x="720" y="187" width="3" height="10" fill="#ef5350"/>
<rect x="725" y="172" width="1" height="29" fill="#ef5350"/>
<rect x="724" y="196" width="3" height="1" fill="#ef5350"/>
<rect x="729" y="191" width="1" height="12" fill="#ef5350"/>
<rect x="728" y="197" width="3" height="5" fill="#ef5350"/>
<rect x="734" y="189" width="1" height="13" fill="#26a69a"/>
<rect x="733" y="193" width="3" height="9" fill="#26a69a"/>
<rect x="738" y="176" width="1" height="21" fill="#26a69a"/>
<rect x="737" y="184" width="3" height="9" fill="#26a69a"/>
<rect x="742" y="173" width="1" height="22" fill="#ef5350"/>
<rect x="741" y="184" width="3" height="5" fill="#ef5350"/>
<rect x="746" y="164" width="1" height="30" fill="#26a69a"/>
<rect x="745" y="166" width="3" height="23" fill="#26a69a"/>
<rect x="751" y="152" width="1" height="18" fill="#26a69a"/>
<rect x="750" y="153" width="3" height="14" fill="#26a69a"/>
<rect x="755" y="141" width="1" height="17" fill="#26a69a"/>
<rect x="754" y="147" width="3" height="6" fill="#26a69a"/>
<rect x="759" y="145" width="1" height="10" fill="#ef5350"/>
<rect x="758" y="147" width="3" height="2" fill="#ef5350"/>
<rect x="763" y="147" width="1" height="8" fill="#ef5350"/>
<rect x="762" y="149" width="3" height="6" fill="#ef5350"/>
<rect x="768" y="140" width="1" height="21" fill="#26a69a"/>
<rect x="767" y="153" width="3" height="2" fill="#26a69a"/>
<rect x="772" y="139" width="1" height="20" fill="#26a69a"/>
<rect x="771" y="145" width="3" height="8" fill="#26a69a"/>
<rect x="776" y="136" width="1" height="23" fill="#ef5350"/>
<rect x="775" y="141" width="3" height="3" fill="#ef5350"/>
<rect x="780" y="130" width="1" height="17" fill="#26a69a"/>
<rect x="779" y="138" width="3" height="6" fill="#26a69a"/>
<rect x="785" y="134" width="1" height="22" fill="#ef5350"/>
<rect x="784" y="138" width="3" height="14" fill="#ef5350"/>
<rect x="789" y="146" width="1" height="7" fill="#26a69a"/>
<rect x="788" y="150" width="3" height="1" fill="#26a69a"/>
<rect x="793" y="149" width="1" height="6" fill="#ef5350"/>
<rect x="792" y="150" width="3" height="4" fill="#ef5350"/>
<rect x="797" y="153" width="1" height="33" fill="#ef5350"/>
<rect x="796" y="154" width="3" height="24" fill="#ef5350"/>
<rect x="802" y="172" width="1" height="17" fill="#ef5350"/>
<rect x="801" y="178" width="3" height="7" fill="#ef5350"/>
<rect x="806" y="167" width="1" height="26" fill="#26a69a"/>
<rect x="805" y="172" width="3" height="13" fill="#26a69a"/>
<rect x="810" y="170" width="1" height="45" fill="#ef5350"/>
<rect x="809" y="172" width="3" height="41" fill="#ef5350"/>
<rect x="814" y="200" width="1" height="15" fill="#26a69a"/>
<rect x="813" y="206" width="3" height="7" fill="#26a69a"/>
<rect x="819" y="205" width="1" height="6" fill="#ef5350"/>
<rect x="818" y="206" width="3" height="1" fill="#ef5350"/>
<rect x="823" y="181" width="1" height="29" fill="#26a69a"/>
<rect x="822" y="183" width="3" height="24" fill="#26a69a"/>
<rect x="827" y="162" width="1" height="26" fill="#26a69a"/>
<rect x="826" y="164" width="3" height="19" fill="#26a69a"/>
<rect x="832" y="159" width="1" height="19" fill="#ef5350"/>
<rect x="831" y="163" width="3" height="3" fill="#ef5350"/>
<rect x="836" y="123" width="1" height="43" fill="#26a69a"/>
<rect x="835" y="124" width="3" height="41" fill="#26a69a"/>
<rect x="840" y="101" width="1" height="25" fill="#26a69a"/>
<rect x="839" y="106" width="3" height="19" fill="#26a69a"/>
<rect x="844" y="75" width="1" height="43" fill="#26a69a"/>
<rect x="843" y="90" width="3" height="17" fill="#26a69a"/>
<rect x="849" y="85" width="1" height="12" fill="#26a69a"/>
<rect x="848" y="89" width="3" height="2" fill="#26a69a"/>
<rect x="853" y="58" width="1" height="33" fill="#26a69a"/>
<rect x="852" y="79" width="3" height="11" fill="#26a69a"/>
<rect x="857" y="54" width="1" height="28" fill="#26a69a"/>
<rect x="856" y="68" width="3" height="12" fill="#26a69a"/>
<rect x="861" y="63" width="1" height="42" fill="#ef5350"/>
<rect x="860" y="68" width="3" height="31" fill="#ef5350"/>
<rect x="866" y="72" width="1" height="29" fill="#26a69a"/>
<rect x="865" y="80" width="3" height="19" fill="#26a69a"/>
<rect x="870" y="76" width="1" height="38" fill="#ef5350"/>
<rect x="869" y="80" width="3" height="16" fill="#ef5350"/>
<rect x="874" y="87" width="1" height="189" fill="#ef5350"/>
<rect x="873" y="95" width="3" height="82" fill="#ef5350"/>
<rect x="878" y="172" width="1" height="35" fill="#ef5350"/>
<rect x="877" y="177" width="3" height="21" fill="#ef5350"/>
<rect x="883" y="150" width="1" height="57" fill="#26a69a"/>
<rect x="882" y="157" width="3" height="41" fill="#26a69a"/>
<rect x="887" y="148" width="1" height="21" fill="#26a69a"/>
<rect x="886" y="155" width="3" height="3" fill="#26a69a"/>
<rect x="891" y="153" width="1" height="51" fill="#ef5350"/>
<rect x="890" y="155" width="3" height="21" fill="#ef5350"/>
<rect x="895" y="169" width="1" height="32" fill="#ef5350"/>
<rect x="894" y="175" width="3" height="22" fill="#ef5350"/>
<rect x="900" y="184" width="1" height="42" fill="#ef5350"/>
<rect x="899" y="196" width="3" height="24" fill="#ef5350"/>
<rect x="904" y="210" width="1" height="52" fill="#ef5350"/>
<rect x="903" y="219" width="3" height="18" fill="#ef5350"/>
<rect x="908" y="226" width="1" height="11" fill="#26a69a"/>
<rect x="907" y="229" width="3" height="8" fill="#26a69a"/>
<rect x="912" y="208" width="1" height="31" fill="#26a69a"/>
<rect x="911" y="215" width="3" height="15" fill="#26a69a"/>
<rect x="917" y="187" width="1" height="35" fill="#26a69a"/>
<rect x="916" y="198" width="3" height="17" fill="#26a69a"/>
<rect x="921" y="166" width="1" height="59" fill="#ef5350"/>
<rect x="920" y="198" width="3" height="21" fill="#ef5350"/>
<rect x="925" y="210" width="1" height="23" fill="#ef5350"/>
<rect x="924" y="218" width="3" height="8" fill="#ef5350"/>
<rect x="929" y="191" width="1" height="35" fill="#26a69a"/>
<rect x="928" y="202" width="3" height="24" fill="#26a69a"/>
<rect x="934" y="183" width="1" height="22" fill="#26a69a"/>
<rect x="933" y="193" width="3" height="10" fill="#26a69a"/>
<rect x="938" y="185" width="1" height="11" fill="#26a69a"/>
<rect x="937" y="188" width="3" height="6" fill="#26a69a"/>
<rect x="942" y="152" width="1" height="39" fill="#26a69a"/>
<rect x="941" y="161" width="3" height="28" fill="#26a69a"/>
<rect x="946" y="144" width="1" height="23" fill="#ef5350"/>
<rect x="945" y="161" width="3" height="5" fill="#ef5350"/>
<rect x="951" y="147" width="1" height="35" fill="#ef5350"/>
<rect x="950" y="165" width="3" height="11" fill="#ef5350"/>
<rect x="955" y="169" width="1" height="41" fill="#ef5350"/>
<rect x="954" y="176" width="3" height="27" fill="#ef5350"/>
<rect x="959" y="188" width="1" height="49" fill="#ef5350"/>
<rect x="958" y="202" width="3" height="17" fill="#ef5350"/>
<rect x="964" y="192" width="1" height="27" fill="#26a69a"/>
<rect x="963" y="206" width="3" height="12" fill="#26a69a"/>
<rect x="968" y="197" width="1" height="11" fill="#26a69a"/>
<rect x="967" y="202" width="3" height="4" fill="#26a69a"/>
<rect x="972" y="192" width="1" height="16" fill="#26a69a"/>
<rect x="971" y="198" width="3" height="4" fill="#26a69a"/>
<rect x="976" y="196" width="1" height="50" fill="#ef5350"/>
<rect x="975" y="198" width="3" height="37" fill="#ef5350"/>
<rect x="981" y="228" width="1" height="76" fill="#ef5350"/>
<rect x="980" y="234" width="3" height="47" fill="#ef5350"/>
<rect x="985" y="253" width="1" height="51" fill="#26a69a"/>
<rect x="984" y="259" width="3" height="22" fill="#26a69a"/>
<rect x="989" y="256" width="1" height="36" fill="#ef5350"/>
<rect x="988" y="259" width="3" height="24" fill="#ef5350"/>
<rect x="993" y="257" width="1" height="45" fill="#26a69a"/>
<rect x="992" y="264" width="3" height="19" fill="#26a69a"/>
<rect x="998" y="263" width="1" height="18" fill="#ef5350"/>
<rect x="997" y="264" width="3" height="10" fill="#ef5350"/>
<rect x="1002" y="244" width="1" height="38" fill="#26a69a"/>
<rect x="1001" y="251" width="3" height="23" fill="#26a69a"/>
<rect x="1006" y="233" width="1" height="22" fill="#26a69a"/>
<rect x="1005" y="239" width="3" height="13" fill="#26a69a"/>
<rect x="1010" y="226" width="1" height="46" fill="#ef5350"/>
<rect x="1009" y="239" width="3" height="29" fill="#ef5350"/>
<rect x="1015" y="246" width="1" height="41" fill="#ef5350"/>
<rect x="1014" y="267" width="3" height="14" fill="#ef5350"/>
<rect x="1019" y="257" width="1" height="56" fill="#ef5350"/>
<rect x="1018" y="280" width="3" height="19" fill="#ef5350"/>
<rect x="1023" y="297" width="1" height="53" fill="#ef5350"/>
<rect x="1022" y="298" width="3" height="48" fill="#ef5350"/>
<rect x="1027" y="324" width="1" height="22" fill="#26a69a"/>
<rect x="1026" y="335" width="3" height="11" fill="#26a69a"/>
<rect x="1032" y="326" width="1" height="33" fill="#ef5350"/>
<rect x="1031" y="335" width="3" height="14" fill="#ef5350"/>
<rect x="1036" y="331" width="1" height="45" fill="#ef5350"/>
<rect x="1035" y="348" width="3" height="19" fill="#ef5350"/>
<rect x="1040" y="352" width="1" height="42" fill="#26a69a"/>
<rect x="1039" y="360" width="3" height="7" fill="#26a69a"/>
<rect x="1044" y="360" width="1" height="40" fill="#ef5350"/>
<rect x="1043" y="360" width="3" height="14" fill="#ef5350"/>
<rect x="1049" y="358" width="1" height="65" fill="#ef5350"/>
<rect x="1048" y="373" width="3" height="46" fill="#ef5350"/>
<rect x="1053" y="410" width="1" height="63" fill="#ef5350"/>
<rect x="1052" y="418" width="3" height="15" fill="#ef5350"/>
<rect x="1057" y="427" width="1" height="20" fill="#ef5350"/>
<rect x="1056" y="432" width="3" height="4" fill="#ef5350"/>
<rect x="1061" y="404" width="1" height="32" fill="#26a69a"/>
<rect x="1060" y="416" width="3" height="20" fill="#26a69a"/>
<rect x="1066" y="394" width="1" height="36" fill="#26a69a"/>
<rect x="1065" y="402" width="3" height="15" fill="#26a69a"/>
<rect x="1070" y="400" width="1" height="23" fill="#ef5350"/>
<rect x="1069" y="402" width="3" height="9" fill="#ef5350"/>
<rect x="1074" y="381" width="1" height="40" fill="#26a69a"/>
<rect x="1073" y="382" width="3" height="29" fill="#26a69a"/>
<rect x="1079" y="369" width="1" height="17" fill="#26a69a"/>
<rect x="1078" y="375" width="3" height="7" fill="#26a69a"/>
<rect x="1083" y="359" width="1" height="26" fill="#ef5350"/>
<rect x="1082" y="375" width="3" height="5" fill="#ef5350"/>
<rect x="1087" y="376" width="1" height="9" fill="#ef5350"/>
<rect x="1086" y="379" width="3" height="1" fill="#ef5350"/>
<rect x="1091" y="368" width="1" height="17" fill="#ef5350"/>
<rect x="1090" y="380" width="3" height="5" fill="#ef5350"/>
<rect x="1096" y="383" width="1" height="61" fill="#ef5350"/>
<rect x="1095" y="384" width="3" height="38" fill="#ef5350"/>
<rect x="1100" y="366" width="1" height="56" fill="#26a69a"/>
<rect x="1099" y="375" width="3" height="47" fill="#26a69a"/>
<rect x="1104" y="349" width="1" height="28" fill="#26a69a"/>
<rect x="1103" y="355" width="3" height="20" fill="#26a69a"/>
<rect x="1108" y="349" width="1" height="23" fill="#ef5350"/>
<rect x="1107" y="355" width="3" height="14" fill="#ef5350"/>
<rect x="1113" y="362" width="1" height="43" fill="#ef5350"/>
<rect x="1112" y="368" width="3" height="26" fill="#ef5350"/>
<rect x="1117" y="384" width="1" height="14" fill="#ef5350"/>
<rect x="1116" y="393" width="3" height="1" fill="#ef5350"/>
<rect x="1121" y="372" width="1" height="36" fill="#26a69a"/>
<rect x="1120" y="383" width="3" height="11" fill="#26a69a"/>
<rect x="1125" y="366" width="1" height="25" fill="#26a69a"/>
<rect x="1124" y="381" width="3" height="3" fill="#26a69a"/>
<rect x="1130" y="345" width="1" height="46" fill="#26a69a"/>
<rect x="1129" y="362" width="3" height="20" fill="#26a69a"/>
<rect x="1134" y="346" width="1" height="26" fill="#ef5350"/>
<rect x="1133" y="362" width="3" height="8" fill="#ef5350"/>
<rect x="1138" y="354" width="1" height="40" fill="#26a69a"/>
<rect x="1137" y="364" width="3" height="5" fill="#26a69a"/>
<rect x="1142" y="361" width="1" height="31" fill="#ef5350"/>
<rect x="1141" y="364" width="3" height="21" fill="#ef5350"/>
<rect x="1147" y="381" width="1" height="8" fill="#ef5350"/>
<rect x="1146" y="384" width="3" height="1" fill="#ef5350"/>
<rect x="1151" y="382" width="1" height="27" fill="#ef5350"/>
<rect x="1150" y="385" width="3" height="20" fill="#ef5350"/>
<rect x="1155" y="386" width="1" height="46" fill="#ef5350"/>
<rect x="1154" y="404" width="3" height="16" fill="#ef5350"/>
<rect x="1159" y="405" width="1" height="25" fill="#26a69a"/>
<rect x="1158" y="407" width="3" height="13" fill="#26a69a"/>
<rect x="1164" y="383" width="1" height="39" fill="#ef5350"/>
<rect x="1163" y="407" width="3" height="12" fill="#ef5350"/>
<line x1="10" y1="418.5" x2="1265" y2="418.5" stroke="#ef5350" stroke-width="1" stroke-dasharray="1 2"/>
<path d="M1129.5,435.6 H1204.5 Q1212,435.6 1212,443 V460.5 Q1212,467.9 1204.5,467.9 H1131 Q1124.3,467.9 1123.4,460.5 L1119.9,438.3 L1123.3,441.3 Q1124.6,436.2 1129.5,435.6 Z" fill="#fff" stroke="#a93237" stroke-width="1.6" stroke-linejoin="miter"/>
<text x="1134.6" y="454.8" font-size="12" fill="#a0242b" textLength="66.8" lengthAdjust="spacingAndGlyphs">Uptrend line</text>
<circle cx="1164.6" cy="544.4" r="9.7" fill="#fff" stroke="#8e24aa" stroke-width="1.5"/>
<path d="M1166.9,539.2 L1160.3,544.9 H1164 L1161.4,550 L1168.5,544.1 H1164.9 Z" fill="#8e24aa"/>
<circle cx="1171.5" cy="537.6" r="4.4" fill="#fff"/>
<circle cx="1171.5" cy="537.6" r="2.6" fill="#f23645"/>
</g>
<g clip-path="url(#cr)">
<polygon points="10.5,590.5 10.5,659.7 14.5,660.9 18.5,649.9 22.5,641.0 27.5,641.4 31.5,643.6 35.5,642.2 39.5,658.4 44.5,668.6 48.5,670.6 52.5,669.4 57.5,650.7 61.5,665.5 65.5,660.1 69.5,655.8 74.5,657.0 78.5,685.9 82.5,680.5 86.5,693.6 91.5,651.9 95.5,665.5 99.5,646.5 103.5,638.0 108.5,645.1 112.5,641.4 116.5,646.5 120.5,643.9 125.5,639.3 129.5,642.2 133.5,638.8 137.5,637.6 142.5,625.2 146.5,597.1 150.5,596.3 154.5,594.6 159.5,592.9 163.5,592.5 167.5,600.9 171.5,595.4 176.5,602.6 180.5,603.6 184.5,590.7 189.5,589.5 193.5,603.9 197.5,617.5 201.5,614.1 206.5,602.6 210.5,600.9 214.5,573.7 218.5,575.9 223.5,570.2 227.5,578.4 231.5,589.5 235.5,586.1 240.5,592.0 244.5,593.4 248.5,595.1 252.5,598.5 257.5,581.0 261.5,591.2 265.5,586.1 269.5,574.2 274.5,566.5 278.5,608.7 282.5,603.6 286.5,600.2 291.5,598.8 295.5,604.8 299.5,616.7 303.5,635.4 308.5,646.1 312.5,640.5 316.5,634.2 321.5,633.2 325.5,637.6 329.5,643.9 333.5,668.9 338.5,647.3 342.5,637.1 346.5,635.4 350.5,608.2 355.5,608.2 359.5,622.6 363.5,645.6 367.5,643.1 372.5,647.3 376.5,645.6 380.5,637.1 384.5,654.6 389.5,651.9 393.5,654.1 397.5,664.3 401.5,673.7 406.5,680.8 410.5,643.1 414.5,636.6 418.5,629.1 423.5,632.0 427.5,631.5 431.5,629.5 435.5,621.8 440.5,635.4 444.5,647.8 448.5,623.5 453.5,618.4 457.5,633.2 461.5,630.8 465.5,624.7 470.5,633.7 474.5,627.8 478.5,612.4 482.5,586.9 487.5,581.0 491.5,582.2 495.5,575.9 499.5,573.0 504.5,595.4 508.5,591.2 512.5,589.0 516.5,602.6 521.5,603.9 525.5,610.4 529.5,609.0 533.5,593.7 538.5,607.3 542.5,613.3 546.5,620.6 550.5,617.5 555.5,607.3 559.5,622.3 563.5,623.8 568.5,625.2 572.5,646.5 576.5,670.3 580.5,675.7 585.5,658.4 589.5,650.7 593.5,658.4 597.5,649.9 602.5,628.1 606.5,635.4 610.5,638.0 614.5,616.7 619.5,622.3 623.5,612.4 627.5,594.1 631.5,638.8 636.5,644.4 640.5,644.4 644.5,644.4 648.5,652.4 653.5,675.4 657.5,664.3 661.5,674.5 665.5,643.1 670.5,650.7 674.5,663.5 678.5,680.2 682.5,669.4 687.5,671.1 691.5,662.1 695.5,682.5 700.5,679.6 704.5,682.2 708.5,674.5 712.5,660.1 717.5,656.7 721.5,662.1 725.5,662.6 729.5,666.0 734.5,658.4 738.5,650.7 742.5,654.1 746.5,634.6 751.5,625.2 755.5,620.9 759.5,622.3 763.5,627.8 768.5,627.4 772.5,616.7 776.5,620.1 780.5,615.5 785.5,631.5 789.5,632.9 793.5,637.6 797.5,663.5 802.5,669.4 806.5,655.0 810.5,687.6 814.5,680.5 819.5,680.2 823.5,652.4 827.5,637.6 832.5,639.7 836.5,609.9 840.5,599.7 844.5,592.9 849.5,592.0 853.5,586.9 857.5,581.8 861.5,614.1 866.5,604.3 870.5,619.6 874.5,670.3 878.5,679.6 883.5,655.3 887.5,654.6 891.5,664.0 895.5,673.7 900.5,683.9 904.5,690.2 908.5,684.8 912.5,673.7 917.5,664.0 921.5,672.9 925.5,677.1 929.5,661.8 934.5,655.8 938.5,651.1 942.5,635.1 946.5,638.0 951.5,646.5 955.5,663.5 959.5,670.8 964.5,663.5 968.5,658.9 972.5,655.8 976.5,678.0 981.5,698.4 985.5,681.7 989.5,691.2 993.5,678.0 998.5,682.2 1002.5,666.9 1006.5,659.2 1010.5,673.7 1015.5,678.8 1019.5,687.3 1023.5,704.3 1027.5,696.7 1032.5,700.9 1036.5,707.7 1040.5,701.8 1044.5,706.9 1049.5,719.6 1053.5,723.6 1057.5,725.3 1061.5,706.9 1066.5,697.5 1070.5,700.4 1074.5,677.6 1079.5,672.5 1083.5,674.9 1087.5,675.9 1091.5,677.6 1096.5,695.8 1100.5,661.8 1104.5,649.4 1108.5,657.5 1113.5,669.5 1117.5,670.3 1121.5,662.6 1125.5,660.6 1130.5,647.7 1134.5,651.1 1138.5,648.2 1142.5,662.3 1147.5,662.3 1151.5,673.7 1155.5,684.4 1159.5,672.0 1164.5,679.7 1164.5,590.5" fill="url(#gg)" clip-path="url(#c70)"/>
<polygon points="10.5,705.5 10.5,659.7 14.5,660.9 18.5,649.9 22.5,641.0 27.5,641.4 31.5,643.6 35.5,642.2 39.5,658.4 44.5,668.6 48.5,670.6 52.5,669.4 57.5,650.7 61.5,665.5 65.5,660.1 69.5,655.8 74.5,657.0 78.5,685.9 82.5,680.5 86.5,693.6 91.5,651.9 95.5,665.5 99.5,646.5 103.5,638.0 108.5,645.1 112.5,641.4 116.5,646.5 120.5,643.9 125.5,639.3 129.5,642.2 133.5,638.8 137.5,637.6 142.5,625.2 146.5,597.1 150.5,596.3 154.5,594.6 159.5,592.9 163.5,592.5 167.5,600.9 171.5,595.4 176.5,602.6 180.5,603.6 184.5,590.7 189.5,589.5 193.5,603.9 197.5,617.5 201.5,614.1 206.5,602.6 210.5,600.9 214.5,573.7 218.5,575.9 223.5,570.2 227.5,578.4 231.5,589.5 235.5,586.1 240.5,592.0 244.5,593.4 248.5,595.1 252.5,598.5 257.5,581.0 261.5,591.2 265.5,586.1 269.5,574.2 274.5,566.5 278.5,608.7 282.5,603.6 286.5,600.2 291.5,598.8 295.5,604.8 299.5,616.7 303.5,635.4 308.5,646.1 312.5,640.5 316.5,634.2 321.5,633.2 325.5,637.6 329.5,643.9 333.5,668.9 338.5,647.3 342.5,637.1 346.5,635.4 350.5,608.2 355.5,608.2 359.5,622.6 363.5,645.6 367.5,643.1 372.5,647.3 376.5,645.6 380.5,637.1 384.5,654.6 389.5,651.9 393.5,654.1 397.5,664.3 401.5,673.7 406.5,680.8 410.5,643.1 414.5,636.6 418.5,629.1 423.5,632.0 427.5,631.5 431.5,629.5 435.5,621.8 440.5,635.4 444.5,647.8 448.5,623.5 453.5,618.4 457.5,633.2 461.5,630.8 465.5,624.7 470.5,633.7 474.5,627.8 478.5,612.4 482.5,586.9 487.5,581.0 491.5,582.2 495.5,575.9 499.5,573.0 504.5,595.4 508.5,591.2 512.5,589.0 516.5,602.6 521.5,603.9 525.5,610.4 529.5,609.0 533.5,593.7 538.5,607.3 542.5,613.3 546.5,620.6 550.5,617.5 555.5,607.3 559.5,622.3 563.5,623.8 568.5,625.2 572.5,646.5 576.5,670.3 580.5,675.7 585.5,658.4 589.5,650.7 593.5,658.4 597.5,649.9 602.5,628.1 606.5,635.4 610.5,638.0 614.5,616.7 619.5,622.3 623.5,612.4 627.5,594.1 631.5,638.8 636.5,644.4 640.5,644.4 644.5,644.4 648.5,652.4 653.5,675.4 657.5,664.3 661.5,674.5 665.5,643.1 670.5,650.7 674.5,663.5 678.5,680.2 682.5,669.4 687.5,671.1 691.5,662.1 695.5,682.5 700.5,679.6 704.5,682.2 708.5,674.5 712.5,660.1 717.5,656.7 721.5,662.1 725.5,662.6 729.5,666.0 734.5,658.4 738.5,650.7 742.5,654.1 746.5,634.6 751.5,625.2 755.5,620.9 759.5,622.3 763.5,627.8 768.5,627.4 772.5,616.7 776.5,620.1 780.5,615.5 785.5,631.5 789.5,632.9 793.5,637.6 797.5,663.5 802.5,669.4 806.5,655.0 810.5,687.6 814.5,680.5 819.5,680.2 823.5,652.4 827.5,637.6 832.5,639.7 836.5,609.9 840.5,599.7 844.5,592.9 849.5,592.0 853.5,586.9 857.5,581.8 861.5,614.1 866.5,604.3 870.5,619.6 874.5,670.3 878.5,679.6 883.5,655.3 887.5,654.6 891.5,664.0 895.5,673.7 900.5,683.9 904.5,690.2 908.5,684.8 912.5,673.7 917.5,664.0 921.5,672.9 925.5,677.1 929.5,661.8 934.5,655.8 938.5,651.1 942.5,635.1 946.5,638.0 951.5,646.5 955.5,663.5 959.5,670.8 964.5,663.5 968.5,658.9 972.5,655.8 976.5,678.0 981.5,698.4 985.5,681.7 989.5,691.2 993.5,678.0 998.5,682.2 1002.5,666.9 1006.5,659.2 1010.5,673.7 1015.5,678.8 1019.5,687.3 1023.5,704.3 1027.5,696.7 1032.5,700.9 1036.5,707.7 1040.5,701.8 1044.5,706.9 1049.5,719.6 1053.5,723.6 1057.5,725.3 1061.5,706.9 1066.5,697.5 1070.5,700.4 1074.5,677.6 1079.5,672.5 1083.5,674.9 1087.5,675.9 1091.5,677.6 1096.5,695.8 1100.5,661.8 1104.5,649.4 1108.5,657.5 1113.5,669.5 1117.5,670.3 1121.5,662.6 1125.5,660.6 1130.5,647.7 1134.5,651.1 1138.5,648.2 1142.5,662.3 1147.5,662.3 1151.5,673.7 1155.5,684.4 1159.5,672.0 1164.5,679.7 1164.5,705.5" fill="url(#gr)" clip-path="url(#c30)"/>
<line x1="10" y1="590.5" x2="1265" y2="590.5" stroke="#74777f" stroke-width="1" stroke-dasharray="5.2 6" stroke-dashoffset="3"/>
<line x1="10" y1="647.5" x2="1265" y2="647.5" stroke="#b5b8c0" stroke-width="1" stroke-dasharray="5.2 6" stroke-dashoffset="3"/>
<line x1="10" y1="705.5" x2="1265" y2="705.5" stroke="#74777f" stroke-width="1" stroke-dasharray="5.2 6" stroke-dashoffset="3"/>
<path d="M10.4,670.6 C12.2,669.3 17.5,665.1 21.6,662.6 C25.7,660.2 31.2,656.4 36.1,655.3 C41.0,654.2 46.9,655.7 52.2,655.8 C57.6,655.9 65.4,655.3 69.6,655.8 C73.7,656.4 75.4,657.8 78.1,659.2 C80.8,660.7 83.5,663.6 86.3,664.8 C89.0,666.1 92.4,667.0 95.1,666.9 C97.8,666.7 100.5,664.9 103.3,663.8 C106.1,662.7 109.1,661.2 112.6,660.1 C116.2,658.9 122.1,657.6 125.4,656.7 C128.7,655.7 130.7,655.8 133.4,654.1 C136.0,652.5 139.2,649.5 141.9,646.5 C144.6,643.5 147.6,638.7 150.4,635.4 C153.2,632.1 156.1,629.0 159.4,626.1 C162.8,623.1 168.1,619.1 171.3,616.7 C174.6,614.3 176.4,613.5 179.8,611.1 C183.3,608.6 189.5,603.3 192.9,601.4 C196.4,599.5 198.7,599.5 201.4,599.2 C204.2,598.8 207.2,599.6 209.9,599.2 C212.7,598.8 215.7,597.6 218.4,596.8 C221.2,596.0 225.1,594.6 227.0,594.1 C228.8,593.6 227.9,594.1 230.0,593.7 C232.1,593.4 236.7,592.4 240.2,592.0 C243.7,591.6 248.7,591.9 252.1,591.2 C255.5,590.5 258.8,588.8 261.5,587.8 C264.2,586.8 267.1,585.4 269.1,584.9 C271.2,584.3 272.1,583.7 274.2,584.4 C276.4,585.0 279.3,587.6 282.7,589.0 C286.1,590.3 292.0,591.3 295.5,592.9 C299.0,594.5 301.5,596.4 304.9,598.8 C308.3,601.3 314.0,606.1 316.8,608.2 C319.5,610.2 320.0,609.8 321.9,611.6 C323.8,613.4 326.8,616.9 328.7,619.2 C330.6,621.6 331.6,624.1 333.8,626.1 C336.0,628.0 340.1,630.2 342.3,631.5 C344.5,632.8 345.3,633.6 347.4,634.2 C349.5,634.8 352.8,635.1 355.4,635.4 C358.0,635.7 360.8,636.1 363.5,636.3 C366.3,636.4 369.5,636.3 372.4,636.6 C375.3,636.9 378.9,637.5 381.4,638.0 C383.9,638.4 386.3,639.3 388.2,639.3 C390.1,639.4 391.1,637.8 393.3,638.3 C395.5,638.8 399.1,640.8 401.8,642.2 C404.5,643.7 408.2,646.1 410.3,647.3 C412.5,648.5 414.1,649.4 415.4,649.9 C416.8,650.3 416.9,650.5 418.8,650.2 C420.7,649.9 424.6,648.9 427.3,648.2 C430.1,647.4 433.5,646.2 436.2,645.6 C438.9,645.0 442.1,645.1 444.4,644.4 C446.6,643.8 448.0,642.7 450.0,641.7 C452.0,640.7 454.4,639.6 456.8,638.0 C459.3,636.3 462.0,632.9 465.3,631.5 C468.6,630.1 473.7,630.8 477.2,629.1 C480.8,627.4 483.9,623.9 487.4,620.9 C491.0,618.0 496.1,613.3 499.3,610.7 C502.6,608.2 505.1,606.5 507.8,604.8 C510.6,603.1 513.6,601.4 516.3,600.2 C519.1,599.0 522.1,598.2 524.9,597.1 C527.6,596.1 531.2,594.3 533.4,593.7 C535.5,593.1 536.3,592.7 538.5,593.4 C540.6,594.1 544.2,596.5 547.0,598.0 C549.7,599.4 553.0,601.1 555.5,602.6 C557.9,604.0 560.3,605.8 562.3,607.0 C564.2,608.2 565.5,608.1 567.7,609.9 C569.9,611.7 573.8,616.0 575.9,618.4 C578.0,620.8 578.8,622.6 581.0,624.7 C583.2,626.7 587.1,629.2 589.5,631.2 C592.0,633.1 594.1,635.6 596.3,637.1 C598.5,638.6 600.7,639.6 603.1,640.5 C605.6,641.4 609.2,642.3 611.6,642.7 C614.1,643.1 616.5,643.2 618.4,643.1 C620.3,642.9 621.4,642.4 623.5,641.7 C625.7,641.0 629.4,639.8 632.0,638.8 C634.7,637.8 638.0,636.1 640.2,635.4 C642.4,634.7 643.6,634.6 645.6,634.6 C647.7,634.6 650.4,634.6 653.0,635.4 C655.5,636.2 658.7,638.7 661.5,639.7 C664.2,640.6 667.4,639.9 670.2,641.5 C672.9,643.2 675.8,647.1 678.5,649.9 C681.2,652.6 684.3,656.5 687.0,658.7 C689.7,660.9 692.8,662.0 695.5,663.5 C698.2,665.0 701.9,667.3 704.0,668.2 C706.1,669.2 707.2,669.4 708.8,669.4 C710.4,669.4 712.3,668.6 714.2,668.2 C716.2,667.9 718.6,667.0 721.0,667.2 C723.5,667.4 727.5,669.1 729.5,669.4 C731.6,669.8 731.9,670.0 733.8,669.4 C735.7,668.9 738.9,667.4 741.5,666.0 C744.0,664.7 747.2,663.0 750.0,660.9 C752.7,658.9 756.0,655.4 758.5,653.3 C760.9,651.1 762.8,649.3 765.3,647.3 C767.7,645.4 771.3,642.8 773.8,641.0 C776.2,639.2 778.1,637.4 780.6,635.9 C783.0,634.4 787.1,632.5 789.1,631.5 C791.1,630.5 791.4,629.9 793.0,629.8 C794.6,629.7 797.2,630.3 799.3,630.8 C801.4,631.3 803.7,631.2 806.1,632.9 C808.6,634.5 811.8,639.0 814.6,641.4 C817.4,643.8 820.8,646.4 823.6,647.8 C826.4,649.2 829.5,650.2 832.1,650.2 C834.8,650.3 837.2,649.6 840.1,648.2 C843.0,646.8 847.3,643.9 850.3,641.4 C853.3,638.8 856.4,634.5 858.8,632.0 C861.3,629.6 863.7,627.8 865.6,626.1 C867.6,624.3 868.8,622.2 870.7,621.3 C872.7,620.4 875.4,620.7 877.6,620.6 C879.7,620.5 882.3,620.3 884.4,620.6 C886.4,621.0 888.0,620.7 890.6,622.8 C893.1,624.9 896.8,629.0 900.2,633.7 C903.7,638.5 908.8,647.7 912.1,652.4 C915.4,657.2 917.9,660.4 920.6,663.5 C923.3,666.6 925.9,671.3 929.1,672.0 C932.4,672.7 937.0,669.0 941.0,667.8 C945.1,666.5 950.8,665.2 954.6,664.0 C958.5,662.9 962.1,661.6 964.9,660.6 C967.7,659.6 968.9,657.8 972.2,657.9 C975.4,658.0 981.1,659.8 985.3,661.3 C989.4,662.8 994.2,665.7 998.0,667.4 C1001.8,669.1 1005.7,670.7 1009.1,672.0 C1012.5,673.3 1016.0,673.6 1019.3,675.4 C1022.6,677.2 1026.5,681.3 1029.5,683.1 C1032.5,684.8 1035.0,685.2 1038.0,686.5 C1041.0,687.7 1045.0,688.8 1048.2,690.7 C1051.5,692.6 1054.9,696.2 1058.4,698.4 C1061.9,700.6 1066.8,703.6 1070.0,704.3 C1073.2,705.1 1075.7,703.8 1078.6,703.0 C1081.4,702.2 1085.1,700.3 1087.9,699.2 C1090.7,698.2 1094.2,697.3 1096.2,696.3 C1098.2,695.4 1098.6,694.8 1100.4,693.3 C1102.2,691.7 1105.0,688.5 1107.2,686.5 C1109.4,684.4 1111.6,682.6 1114.0,680.5 C1116.5,678.5 1119.9,675.7 1122.5,673.7 C1125.1,671.7 1127.7,669.2 1130.2,667.8 C1132.6,666.3 1135.1,665.2 1137.8,664.3 C1140.6,663.5 1144.4,662.7 1147.2,662.3 C1150.0,661.9 1153.3,661.7 1155.4,661.8 C1157.4,661.9 1158.5,662.2 1160.0,662.6 C1161.4,663.1 1163.7,664.4 1164.4,664.7" fill="none" stroke="#fdd835" stroke-width="1.3"/>
<polyline points="10.5,659.7 14.5,660.9 18.5,649.9 22.5,641.0 27.5,641.4 31.5,643.6 35.5,642.2 39.5,658.4 44.5,668.6 48.5,670.6 52.5,669.4 57.5,650.7 61.5,665.5 65.5,660.1 69.5,655.8 74.5,657.0 78.5,685.9 82.5,680.5 86.5,693.6 91.5,651.9 95.5,665.5 99.5,646.5 103.5,638.0 108.5,645.1 112.5,641.4 116.5,646.5 120.5,643.9 125.5,639.3 129.5,642.2 133.5,638.8 137.5,637.6 142.5,625.2 146.5,597.1 150.5,596.3 154.5,594.6 159.5,592.9 163.5,592.5 167.5,600.9 171.5,595.4 176.5,602.6 180.5,603.6 184.5,590.7 189.5,589.5 193.5,603.9 197.5,617.5 201.5,614.1 206.5,602.6 210.5,600.9 214.5,573.7 218.5,575.9 223.5,570.2 227.5,578.4 231.5,589.5 235.5,586.1 240.5,592.0 244.5,593.4 248.5,595.1 252.5,598.5 257.5,581.0 261.5,591.2 265.5,586.1 269.5,574.2 274.5,566.5 278.5,608.7 282.5,603.6 286.5,600.2 291.5,598.8 295.5,604.8 299.5,616.7 303.5,635.4 308.5,646.1 312.5,640.5 316.5,634.2 321.5,633.2 325.5,637.6 329.5,643.9 333.5,668.9 338.5,647.3 342.5,637.1 346.5,635.4 350.5,608.2 355.5,608.2 359.5,622.6 363.5,645.6 367.5,643.1 372.5,647.3 376.5,645.6 380.5,637.1 384.5,654.6 389.5,651.9 393.5,654.1 397.5,664.3 401.5,673.7 406.5,680.8 410.5,643.1 414.5,636.6 418.5,629.1 423.5,632.0 427.5,631.5 431.5,629.5 435.5,621.8 440.5,635.4 444.5,647.8 448.5,623.5 453.5,618.4 457.5,633.2 461.5,630.8 465.5,624.7 470.5,633.7 474.5,627.8 478.5,612.4 482.5,586.9 487.5,581.0 491.5,582.2 495.5,575.9 499.5,573.0 504.5,595.4 508.5,591.2 512.5,589.0 516.5,602.6 521.5,603.9 525.5,610.4 529.5,609.0 533.5,593.7 538.5,607.3 542.5,613.3 546.5,620.6 550.5,617.5 555.5,607.3 559.5,622.3 563.5,623.8 568.5,625.2 572.5,646.5 576.5,670.3 580.5,675.7 585.5,658.4 589.5,650.7 593.5,658.4 597.5,649.9 602.5,628.1 606.5,635.4 610.5,638.0 614.5,616.7 619.5,622.3 623.5,612.4 627.5,594.1 631.5,638.8 636.5,644.4 640.5,644.4 644.5,644.4 648.5,652.4 653.5,675.4 657.5,664.3 661.5,674.5 665.5,643.1 670.5,650.7 674.5,663.5 678.5,680.2 682.5,669.4 687.5,671.1 691.5,662.1 695.5,682.5 700.5,679.6 704.5,682.2 708.5,674.5 712.5,660.1 717.5,656.7 721.5,662.1 725.5,662.6 729.5,666.0 734.5,658.4 738.5,650.7 742.5,654.1 746.5,634.6 751.5,625.2 755.5,620.9 759.5,622.3 763.5,627.8 768.5,627.4 772.5,616.7 776.5,620.1 780.5,615.5 785.5,631.5 789.5,632.9 793.5,637.6 797.5,663.5 802.5,669.4 806.5,655.0 810.5,687.6 814.5,680.5 819.5,680.2 823.5,652.4 827.5,637.6 832.5,639.7 836.5,609.9 840.5,599.7 844.5,592.9 849.5,592.0 853.5,586.9 857.5,581.8 861.5,614.1 866.5,604.3 870.5,619.6 874.5,670.3 878.5,679.6 883.5,655.3 887.5,654.6 891.5,664.0 895.5,673.7 900.5,683.9 904.5,690.2 908.5,684.8 912.5,673.7 917.5,664.0 921.5,672.9 925.5,677.1 929.5,661.8 934.5,655.8 938.5,651.1 942.5,635.1 946.5,638.0 951.5,646.5 955.5,663.5 959.5,670.8 964.5,663.5 968.5,658.9 972.5,655.8 976.5,678.0 981.5,698.4 985.5,681.7 989.5,691.2 993.5,678.0 998.5,682.2 1002.5,666.9 1006.5,659.2 1010.5,673.7 1015.5,678.8 1019.5,687.3 1023.5,704.3 1027.5,696.7 1032.5,700.9 1036.5,707.7 1040.5,701.8 1044.5,706.9 1049.5,719.6 1053.5,723.6 1057.5,725.3 1061.5,706.9 1066.5,697.5 1070.5,700.4 1074.5,677.6 1079.5,672.5 1083.5,674.9 1087.5,675.9 1091.5,677.6 1096.5,695.8 1100.5,661.8 1104.5,649.4 1108.5,657.5 1113.5,669.5 1117.5,670.3 1121.5,662.6 1125.5,660.6 1130.5,647.7 1134.5,651.1 1138.5,648.2 1142.5,662.3 1147.5,662.3 1151.5,673.7 1155.5,684.4 1159.5,672.0 1164.5,679.7" fill="none" stroke="#7e57c2" stroke-width="2.8" stroke-linejoin="round" stroke-linecap="round"/>
</g>
<rect x="10" y="557" width="1333" height="1" fill="#dcdee3"/>
<rect x="10" y="735" width="1333" height="1" fill="#dcdee3"/>
<rect x="1265" y="27" width="1" height="736" fill="#dcdee3"/>
<rect x="10.2" y="27.2" width="1332.7" height="735.5" fill="none" stroke="#f0f1f3" stroke-width="1.8"/>
<g clip-path="url(#cpa)">
<text x="1274.5" y="556" font-size="12" fill="#131722" textLength="52.3" lengthAdjust="spacingAndGlyphs">72,000.00</text>
<text x="1274.5" y="519" font-size="12" fill="#131722" textLength="52.3" lengthAdjust="spacingAndGlyphs">76,000.00</text>
<text x="1274.5" y="482" font-size="12" fill="#131722" textLength="52.3" lengthAdjust="spacingAndGlyphs">80,000.00</text>
<text x="1274.5" y="446" font-size="12" fill="#131722" textLength="52.3" lengthAdjust="spacingAndGlyphs">84,000.00</text>
<text x="1274.5" y="409" font-size="12" fill="#131722" textLength="52.3" lengthAdjust="spacingAndGlyphs">88,000.00</text>
<text x="1274.5" y="372" font-size="12" fill="#131722" textLength="52.3" lengthAdjust="spacingAndGlyphs">92,000.00</text>
<text x="1274.5" y="335" font-size="12" fill="#131722" textLength="52.3" lengthAdjust="spacingAndGlyphs">96,000.00</text>
<text x="1274.5" y="298" font-size="12" fill="#131722" textLength="58.3" lengthAdjust="spacingAndGlyphs">100,000.00</text>
<text x="1274.5" y="261" font-size="12" fill="#131722" textLength="58.3" lengthAdjust="spacingAndGlyphs">104,000.00</text>
<text x="1274.5" y="225" font-size="12" fill="#131722" textLength="58.3" lengthAdjust="spacingAndGlyphs">108,000.00</text>
<text x="1274.5" y="188" font-size="12" fill="#131722" textLength="58.3" lengthAdjust="spacingAndGlyphs">112,000.00</text>
<text x="1274.5" y="151" font-size="12" fill="#131722" textLength="58.3" lengthAdjust="spacingAndGlyphs">116,000.00</text>
<text x="1274.5" y="114" font-size="12" fill="#131722" textLength="58.3" lengthAdjust="spacingAndGlyphs">120,000.00</text>
<text x="1274.5" y="77" font-size="12" fill="#131722" textLength="58.3" lengthAdjust="spacingAndGlyphs">124,000.00</text>
</g>
<path d="M1266,61 H1339 V61.3 Q1339,63 1336.5,63 H1266 Z" fill="#0000f5"/>
<path d="M1266,121.1 H1336.5 Q1339,121.1 1339,123.6 V135.2 Q1339,137.7 1336.5,137.7 H1266 Z" fill="#0000f5"/>
<text x="1274.5" y="132.8" font-size="12" fill="#fff" textLength="58.3" lengthAdjust="spacingAndGlyphs" font-weight="bold">118,000.00</text>
<path d="M1266,221.9 H1336.5 Q1339,221.9 1339,224.4 V236.0 Q1339,238.5 1336.5,238.5 H1266 Z" fill="#0000f5"/>
<text x="1274.5" y="233.6" font-size="12" fill="#fff" textLength="58.3" lengthAdjust="spacingAndGlyphs" font-weight="bold">107,000.00</text>
<path d="M1266,287.2 H1336.5 Q1339,287.2 1339,289.7 V301.3 Q1339,303.8 1336.5,303.8 H1266 Z" fill="#0000f5"/>
<text x="1274.5" y="298.9" font-size="12" fill="#fff" textLength="58.3" lengthAdjust="spacingAndGlyphs" font-weight="bold">100,000.00</text>
<path d="M1266,528.6 H1329.6 Q1332.1,528.6 1332.1,531.1 V542.7 Q1332.1,545.2 1329.6,545.2 H1266 Z" fill="#0000f5"/>
<text x="1274.5" y="540.3" font-size="12" fill="#fff" textLength="52.3" lengthAdjust="spacingAndGlyphs" font-weight="bold">73,777.00</text>
<path d="M1217.5,334.2 H1265 V350.8 H1217.5 Q1215,350.8 1215,348.3 V336.7 Q1215,334.2 1217.5,334.2 Z" fill="#f23645"/>
<rect x="1265" y="334.2" width="1" height="16.6" fill="#f23645" opacity="0.72"/>
<text x="1219.8" y="346.7" font-size="12" fill="#fff" textLength="41.8" lengthAdjust="spacingAndGlyphs" font-weight="bold">SMA:MA</text>
<path d="M1266,334.2 H1329.6 Q1332.1,334.2 1332.1,336.7 V348.3 Q1332.1,350.8 1329.6,350.8 H1266 Z" fill="#f23645"/>
<text x="1274.5" y="345.9" font-size="12" fill="#fff" textLength="52.3" lengthAdjust="spacingAndGlyphs" font-weight="bold">94,923.56</text>
<path d="M1236.5,378.2 H1265 V394.8 H1236.5 Q1234,394.8 1234,392.3 V380.7 Q1234,378.2 1236.5,378.2 Z" fill="#2962ff"/>
<rect x="1265" y="378.2" width="1" height="16.6" fill="#2962ff" opacity="0.72"/>
<text x="1239.3" y="390.7" font-size="12" fill="#fff" textLength="22.3" lengthAdjust="spacingAndGlyphs" font-weight="bold">EMA</text>
<path d="M1266,378.2 H1329.6 Q1332.1,378.2 1332.1,380.7 V392.3 Q1332.1,394.8 1329.6,394.8 H1266 Z" fill="#2962ff"/>
<text x="1274.5" y="389.9" font-size="12" fill="#fff" textLength="52.3" lengthAdjust="spacingAndGlyphs" font-weight="bold">90,037.76</text>
<path d="M1210.5,410.1 H1265 V426.7 H1210.5 Q1208,426.7 1208,424.2 V412.6 Q1208,410.1 1210.5,410.1 Z" fill="#ef5350"/>
<rect x="1265" y="410.1" width="1" height="16.6" fill="#ef5350" opacity="0.72"/>
<text x="1212.6" y="422.6" font-size="12" fill="#fff" textLength="46.9" lengthAdjust="spacingAndGlyphs" font-weight="bold">BTCUSDT</text>
<path d="M1266,410 H1329.6 Q1332.1,410 1332.1,412.5 V452 Q1332.1,454.5 1329.6,454.5 H1266 Z" fill="#ef5350"/>
<text x="1274.5" y="421.8" font-size="12" fill="#fff" textLength="51.2" lengthAdjust="spacingAndGlyphs" font-weight="bold">86,572.01</text>
<text x="1274.5" y="436.0" font-size="12" fill="#fff" textLength="36.2" lengthAdjust="spacingAndGlyphs" font-weight="bold">+2.79%</text>
<text x="1274.5" y="450.0" font-size="12" fill="#fff" textLength="45.8" lengthAdjust="spacingAndGlyphs" font-weight="bold" fill-opacity="0.78">07:09:17</text>
<rect x="1265" y="426.7" width="1" height="27.8" fill="#ef5350" opacity="0.72"/>
<rect x="1266" y="28" width="76" height="33" fill="#fff"/>
<rect x="1269.5" y="31.5" width="69" height="25.5" rx="4.5" fill="#fff" stroke="#e8eaef" stroke-width="1"/>
<text x="1278" y="48.7" font-size="12" fill="#131722" textLength="28.5" lengthAdjust="spacingAndGlyphs">USDT</text>
<g clip-path="url(#cra)">
<text x="1274.5" y="566" font-size="12" fill="#131722" textLength="29.3" lengthAdjust="spacingAndGlyphs">80.00</text>
<text x="1274.5" y="623" font-size="12" fill="#131722" textLength="29.3" lengthAdjust="spacingAndGlyphs">60.00</text>
<text x="1274.5" y="738" font-size="12" fill="#131722" textLength="29.3" lengthAdjust="spacingAndGlyphs">20.00</text>
</g>
<path d="M1188.5,654.2 H1265 V670.8 H1188.5 Q1186,670.8 1186,668.3 V656.7 Q1186,654.2 1188.5,654.2 Z" fill="#fdd835"/>
<rect x="1265" y="654.2" width="1" height="16.6" fill="#fdd835" opacity="0.72"/>
<text x="1190.6" y="666.7" font-size="12" fill="#131722" textLength="70.1" lengthAdjust="spacingAndGlyphs">RSI-based MA</text>
<path d="M1266,654.2 H1306.5 Q1309,654.2 1309,656.7 V668.3 Q1309,670.8 1306.5,670.8 H1266 Z" fill="#fdd835"/>
<text x="1274.5" y="665.9" font-size="12" fill="#131722" textLength="29.3" lengthAdjust="spacingAndGlyphs">43.94</text>
<path d="M1242.5,671.4 H1265 V688.0 H1242.5 Q1240,688.0 1240,685.5 V673.9 Q1240,671.4 1242.5,671.4 Z" fill="#7e57c2"/>
<rect x="1265" y="671.4" width="1" height="16.6" fill="#7e57c2" opacity="0.72"/>
<text x="1245.1" y="683.9" font-size="12" fill="#fff" textLength="15.6" lengthAdjust="spacingAndGlyphs" font-weight="bold">RSI</text>
<path d="M1266,671.4 H1306.5 Q1309,671.4 1309,673.9 V685.5 Q1309,688.0 1306.5,688.0 H1266 Z" fill="#7e57c2"/>
<text x="1274.5" y="683.1" font-size="12" fill="#fff" textLength="29.3" lengthAdjust="spacingAndGlyphs" font-weight="bold">38.78</text>
<text x="47.6" y="753.4" font-size="12" fill="#131722" textLength="18.2" lengthAdjust="spacingAndGlyphs">Apr</text>
<text x="173.9" y="753.4" font-size="12" fill="#131722" textLength="20.6" lengthAdjust="spacingAndGlyphs">May</text>
<text x="307.2" y="753.4" font-size="12" fill="#131722" textLength="18.3" lengthAdjust="spacingAndGlyphs">Jun</text>
<text x="436.2" y="753.4" font-size="12" fill="#131722" textLength="15.7" lengthAdjust="spacingAndGlyphs">Jul</text>
<text x="566.1" y="753.4" font-size="12" fill="#131722" textLength="19.3" lengthAdjust="spacingAndGlyphs">Aug</text>
<text x="698.4" y="753.4" font-size="12" fill="#131722" textLength="18.9" lengthAdjust="spacingAndGlyphs">Sep</text>
<text x="826.6" y="753.4" font-size="12" fill="#131722" textLength="18.3" lengthAdjust="spacingAndGlyphs">Oct</text>
<text x="958.0" y="753.4" font-size="12" fill="#131722" textLength="19.9" lengthAdjust="spacingAndGlyphs">Nov</text>
<text x="1086.0" y="753.4" font-size="12" fill="#131722" textLength="19.3" lengthAdjust="spacingAndGlyphs">Dec</text>
<text x="1214.1" y="753.4" font-size="12" fill="#131722" textLength="27.2" lengthAdjust="spacingAndGlyphs" font-weight="bold">2026</text>
<text x="10.6" y="18.8" font-size="13" fill="#131722" textLength="58.3" lengthAdjust="spacingAndGlyphs">ranadagger</text>
<text x="74.2" y="18.8" font-size="13" fill="#131722" textLength="39.9" lengthAdjust="spacingAndGlyphs">created</text>
<text x="118.5" y="18.8" font-size="13" fill="#131722" textLength="23.2" lengthAdjust="spacingAndGlyphs">with</text>
<text x="146.6" y="18.8" font-size="13" fill="#131722" textLength="92.7" lengthAdjust="spacingAndGlyphs">TradingView.com,</text>
<text x="244.7" y="18.8" font-size="13" fill="#131722" textLength="17.7" lengthAdjust="spacingAndGlyphs">Dec</text>
<text x="268.1" y="18.8" font-size="13" fill="#131722" textLength="14.7" lengthAdjust="spacingAndGlyphs">17,</text>
<text x="289" y="18.8" font-size="13" fill="#131722" textLength="24" lengthAdjust="spacingAndGlyphs">2025</text>
<text x="318.3" y="18.8" font-size="13" fill="#131722" textLength="28.4" lengthAdjust="spacingAndGlyphs">16:50</text>
<text x="351.1" y="18.8" font-size="13" fill="#131722" textLength="20.9" lengthAdjust="spacingAndGlyphs">UTC</text>
<text x="18.4" y="46" font-size="12" fill="#131722" textLength="35.9" lengthAdjust="spacingAndGlyphs">Bitcoin</text>
<text x="61" y="46" font-size="12" fill="#131722">/</text>
<text x="68.8" y="46" font-size="12" fill="#131722" textLength="47.6" lengthAdjust="spacingAndGlyphs">TetherUS</text>
<text x="121.2" y="46" font-size="12" fill="#131722">·</text>
<text x="129.7" y="46" font-size="12" fill="#131722" textLength="12.2" lengthAdjust="spacingAndGlyphs">1D</text>
<text x="146.2" y="46" font-size="12" fill="#131722">·</text>
<text x="154.6" y="46" font-size="12" fill="#131722" textLength="40.8" lengthAdjust="spacingAndGlyphs">Binance</text>
<text x="203.6" y="46" font-size="12" fill="#131722" textLength="60.3" lengthAdjust="spacingAndGlyphs">O<tspan fill="#ef5350">87,863.43</tspan></text>
<text x="271.6" y="46" font-size="12" fill="#131722" textLength="59.8" lengthAdjust="spacingAndGlyphs">H<tspan fill="#ef5350">90,365.85</tspan></text>
<text x="340.3" y="46" font-size="12" fill="#131722" textLength="57.7" lengthAdjust="spacingAndGlyphs">L<tspan fill="#ef5350">86,166.66</tspan></text>
<text x="405.9" y="46" font-size="12" fill="#131722" textLength="58.1" lengthAdjust="spacingAndGlyphs">C<tspan fill="#ef5350">86,572.01</tspan></text>
<text x="473.3" y="46" font-size="12" fill="#ef5350" textLength="101.2" lengthAdjust="spacingAndGlyphs">−1,291.41 (−1.47%)</text>
<text x="18.4" y="63" font-size="12" fill="#131722" textLength="21.1" lengthAdjust="spacingAndGlyphs">EMA</text>
<text x="44.4" y="63" font-size="12" fill="#131722" textLength="19.5" lengthAdjust="spacingAndGlyphs">(20,</text>
<text x="68.8" y="63" font-size="12" fill="#131722" textLength="31" lengthAdjust="spacingAndGlyphs">close)</text>
<text x="107.6" y="63" font-size="12" fill="#2962ff" textLength="52.7" lengthAdjust="spacingAndGlyphs">90,037.76</text>
<text x="18.4" y="80" font-size="12" fill="#131722" textLength="20.4" lengthAdjust="spacingAndGlyphs">SMA</text>
<text x="43.7" y="80" font-size="12" fill="#131722" textLength="19.5" lengthAdjust="spacingAndGlyphs">(50,</text>
<text x="68.1" y="80" font-size="12" fill="#131722" textLength="31" lengthAdjust="spacingAndGlyphs">close)</text>
<text x="107.3" y="80" font-size="12" fill="#f23645" textLength="52.4" lengthAdjust="spacingAndGlyphs">94,923.56</text>
<text x="18.2" y="577" font-size="12" fill="#131722" textLength="15" lengthAdjust="spacingAndGlyphs">RSI</text>
<text x="38.6" y="577" font-size="12" fill="#131722" textLength="19.4" lengthAdjust="spacingAndGlyphs">(14,</text>
<text x="62.8" y="577" font-size="12" fill="#131722" textLength="30.7" lengthAdjust="spacingAndGlyphs">close)</text>
<text x="102.1" y="577" font-size="12" fill="#7e57c2" textLength="28.7" lengthAdjust="spacingAndGlyphs">38.78</text>
<text x="138.1" y="577" font-size="12" fill="#f9ce3b" textLength="29.8" lengthAdjust="spacingAndGlyphs">43.94</text>
<g transform="translate(11.9,781.65) scale(0.838)" fill="#141414"><path d="M14 22H7V11H0V4h14v18zM28 22h-8l7.5-18h8L28 22z"/><circle cx="20" cy="8" r="4"/></g>
<g transform="scale(1.06,1)"><text x="46.42 56.23 62.92 74.25 85.66 90.75 102.45 115.19 128.96 133.87 145.85" y="799.8" font-size="20" font-weight="bold" fill="#141414">TradingView</text></g>
</svg>
</body></html>
